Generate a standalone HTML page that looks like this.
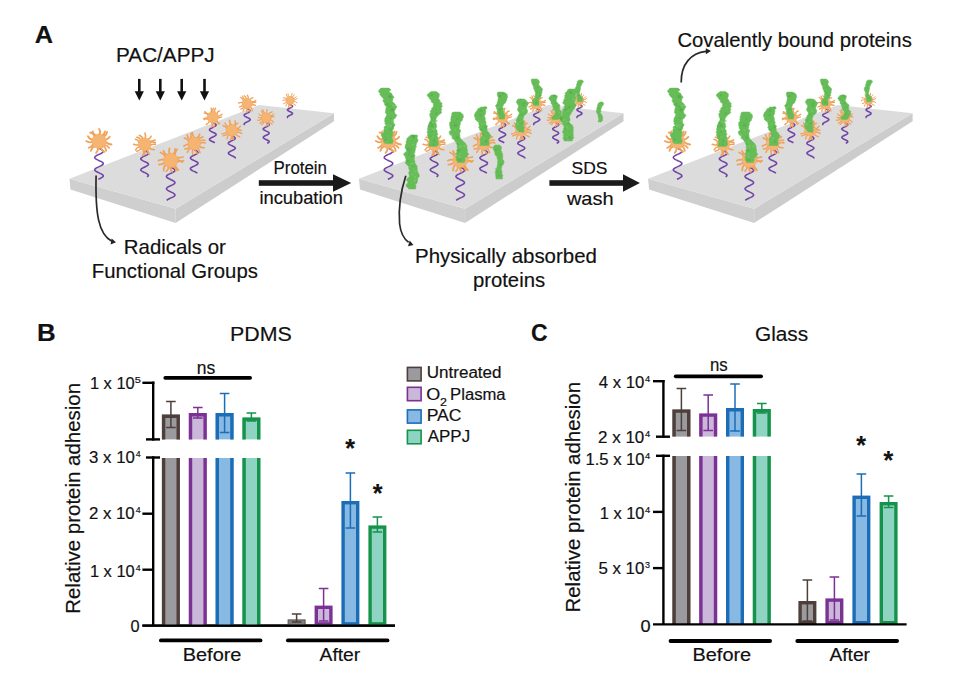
<!DOCTYPE html>
<html><head><meta charset="utf-8"><title>Figure</title>
<style>
html,body{margin:0;padding:0;background:#fff;}
svg{display:block;}
text{font-family:"Liberation Sans", Arial, Helvetica, sans-serif;fill:#111;stroke:#111;stroke-width:0.18px;}
</style></head>
<body>
<svg width="955" height="675" viewBox="0 0 955 675">
<rect width="955" height="675" fill="#fff"/>
<g><polygon points="69.5,178.8 175.6,208.8 175.6,222.9 70.5,189.5" fill="#cfcfcf"/><polygon points="175.6,208.8 334,113.3 334,121.3 175.6,222.9" fill="#cccccc"/><polygon points="69.5,178.8 259,105 334,113.3 175.6,208.8" fill="#dcdcdc"/><path d="M290,104.5L290.7,104.8L291.4,105.1L291.9,105.5L292.3,105.8L292.5,106.1L292.5,106.5L292.2,106.8L291.8,107.1L291.3,107.5L290.6,107.8L289.8,108.1L289.1,108.5L288.5,108.8L288,109.1L287.6,109.5L287.5,109.8L287.6,110.1L287.8,110.5L288.3,110.8L288.9,111.1L289.6,111.5L290.3,111.8L291,112.1L291.6,112.5L292.1,112.8L292.4,113.1L292.5,113.5L292.4,113.8L292.1,114.1L291.6,114.5L291,114.8L290.3,115.1L289.5,115.5L288.8,115.8L288.2,116.1L287.8,116.5L287.5,116.8L287.5,117.1L287.6,117.5L288,117.8" stroke="#7143a6" stroke-width="1.55" fill="none"/><path d="M288.6,103.7Q289.3,105.9 288.4,107.5M287.4,102.9Q286.1,104 285.9,106.3M286.6,101.5Q285.5,103.8 283.7,103.8M286.5,99.8Q284.7,99.5 282.8,100.4M286.9,98.6Q285.4,97.7 283.3,97.8M287.8,97.6Q286.6,96.3 286.4,94.4M289.5,96.8Q287.7,95.5 287.9,93.8M291,96.9Q292.4,95.5 292,93.5M292.5,97.8Q292.6,95.6 294.3,94.8M293.1,98.6Q295.2,98.6 296.3,96.8M293.6,100Q295.5,99.9 297.3,98.5M293.4,101.6Q295.6,101 297.2,102.6M292.5,103Q293.4,104.8 295.6,105.3M291.3,103.8Q290.6,105.9 291.6,107.3M289.7,104Q288.6,105.5 288.9,107.1" stroke="#f0a25a" stroke-width="1" stroke-linecap="round" fill="none"/><circle cx="290" cy="100.4" r="4.2" fill="#f6b472" stroke="#f0a25a" stroke-width="0.5"/><path d="M247.2,108.7L248.1,109.1L248.9,109.5L249.6,109.9L250,110.3L250.3,110.7L250.2,111.1L249.9,111.5L249.4,111.9L248.7,112.3L247.9,112.7L247,113.1L246.1,113.6L245.3,114L244.7,114.4L244.3,114.8L244.1,115.2L244.2,115.6L244.6,116L245.1,116.4L245.9,116.8L246.7,117.2L247.6,117.6L248.5,118.1L249.2,118.5L249.8,118.9L250.2,119.3L250.3,119.7L250.1,120.1L249.7,120.5L249.1,120.9L248.3,121.3L247.5,121.7L246.6,122.1L245.7,122.5L245,123L244.5,123.4L244.2,123.8L244.1,124.2L244.3,124.6L244.8,125" stroke="#7143a6" stroke-width="1.55" fill="none"/><path d="M243.8,106.5Q243.1,108.7 240.9,109M243,105Q241.5,106.9 239.4,106.9M242.9,102.8Q240.9,101.8 238.5,103.1M243.6,101.2Q242.9,98.3 240.6,97.5M245,99.9Q243,98.4 242.4,96.2M246.1,99.4Q246.5,97.3 244.2,95.8M247.9,99.4Q248.8,97.5 247.4,95.2M249.7,100.1Q250.4,98.2 252.9,97.6M251.2,101.8Q253.9,102.1 255.8,100.4M251.6,103.2Q253.6,102.1 255.8,102.4M251.4,104.9Q253.6,104.4 255.4,105.4M250.4,106.7Q251.9,108.2 252.4,110.8M249.2,107.6Q248.8,110.2 250.6,111.6M247.2,108.1Q246.1,110.1 247.2,112.1M245.5,107.8Q243.4,109 243.2,111.1" stroke="#f0a25a" stroke-width="1.3" stroke-linecap="round" fill="none"/><circle cx="247.2" cy="103.7" r="5.1" fill="#f6b472" stroke="#f0a25a" stroke-width="0.5"/><path d="M212.8,122.6L213.9,123.1L214.9,123.6L215.6,124.1L216.1,124.6L216.1,125.1L215.9,125.6L215.3,126.1L214.4,126.6L213.4,127.1L212.3,127.7L211.2,128.2L210.3,128.7L209.7,129.2L209.5,129.7L209.5,130.2L210,130.7L210.7,131.2L211.7,131.7L212.8,132.2L213.9,132.7L214.9,133.2L215.6,133.7L216.1,134.2L216.1,134.7L215.9,135.2L215.3,135.7L214.4,136.2L213.4,136.7L212.3,137.2L211.2,137.8L210.3,138.3L209.7,138.8L209.5,139.3L209.5,139.8L210,140.3L210.7,140.8L211.7,141.3L212.8,141.8L213.9,142.3L214.8,142.8" stroke="#7143a6" stroke-width="1.55" fill="none"/><path d="M211.1,112.7Q211.9,110.1 211.1,108.1M213.1,112.4Q211.9,110.2 213.5,108.2M214.8,112.8Q214,110 215.5,108.2M216.7,114.4Q217.3,111.4 219.7,110.9M217.5,116.3Q220,116.3 222.1,114.2M217.6,117.5Q219.7,118.1 221.8,117M216.8,119.9Q217.4,123 219.8,123.4M215.5,121.2Q218,122.1 218.8,124.2M213.6,121.9Q214.9,124.4 214,127.2M211.4,121.8Q213,124.8 211.6,127M209.6,120.8Q208.8,123.4 206.3,124.5M208.5,119.3Q205.7,118.4 204,119.6M208,117.2Q205.9,118.6 203.8,118.5M208.4,115.4Q206.8,113 204.2,113.1M209.3,113.9Q206.1,113.9 204.9,111.7" stroke="#f0a25a" stroke-width="1.4" stroke-linecap="round" fill="none"/><circle cx="212.8" cy="117.2" r="5.6" fill="#f6b472" stroke="#f0a25a" stroke-width="0.5"/><path d="M266.2,122.6L267.3,123.1L268.3,123.6L268.9,124.1L269.2,124.6L269,125.2L268.4,125.7L267.5,126.2L266.4,126.7L265.3,127.2L264.3,127.8L263.6,128.3L263.2,128.8L263.3,129.3L263.9,129.8L264.7,130.3L265.8,130.9L266.9,131.4L267.9,131.9L268.7,132.4L269.1,132.9L269.1,133.5L268.7,134L267.9,134.5L266.8,135L265.7,135.5L264.6,136L263.8,136.6L263.3,137.1L263.3,137.6L263.6,138.1L264.4,138.6L265.4,139.2L266.5,139.7L267.6,140.2L268.5,140.7L269,141.2L269.2,141.7L268.9,142.3L268.2,142.8L267.2,143.3" stroke="#7143a6" stroke-width="1.55" fill="none"/><path d="M265.2,113.7Q262.8,112 263,109.7M267.1,113.7Q265.9,111.4 267.2,109.7M268.8,114.4Q269.4,112.3 272.2,111.8M269.9,115.8Q272.5,116.1 273.7,114.1M270.4,117.9Q272.4,116 274.2,116.9M270.1,119.6Q272.1,120.2 273.5,122.2M269.2,120.8Q269.8,123.3 272.2,124.1M267.7,121.8Q268.7,123.6 268.2,126M266.1,122Q267.4,124.3 266.1,126.5M263.9,121.4Q263.7,123.7 261.4,124.7M262.9,120.5Q262.1,122.8 259.7,123.2M262,118.6Q260.1,120.7 257.7,120.2M262,117.4Q260,118.5 258.2,117.3M262.6,115.5Q260.1,115.9 259,114M263.7,114.4Q261.9,113 261.5,110.6" stroke="#f0a25a" stroke-width="1.2" stroke-linecap="round" fill="none"/><circle cx="266.2" cy="117.8" r="4.9" fill="#f6b472" stroke="#f0a25a" stroke-width="0.5"/><path d="M231.8,135.8L233,136.3L234.1,136.9L234.9,137.5L235.2,138.1L235.2,138.6L234.7,139.2L233.8,139.8L232.7,140.3L231.5,140.9L230.3,141.5L229.3,142L228.6,142.6L228.3,143.2L228.5,143.7L229.1,144.3L230.1,144.9L231.2,145.4L232.5,146L233.6,146.6L234.5,147.1L235.1,147.7L235.3,148.3L235,148.8L234.3,149.4L233.2,150L232,150.5L230.8,151.1L229.7,151.7L228.9,152.3L228.4,152.8L228.4,153.4L228.8,154L229.6,154.5L230.7,155.1L231.9,155.7L233.1,156.2L234.2,156.8L234.9,157.4L235.3,157.9L235.2,158.5" stroke="#7143a6" stroke-width="1.55" fill="none"/><path d="M235.1,133.9Q236.6,135.9 239.6,136.7M233.1,135Q232.2,137.6 233.5,139.6M231.5,135.1Q232,137.5 230.3,139.7M229.3,134.5Q227.1,136.1 227,139.1M228,133.4Q226.1,135.3 223.1,135.9M227,131.3Q224.9,134.1 222.1,133.8M227.1,128.7Q225.2,126.3 222.9,125.5M228.1,126.9Q225.9,125.7 225,123M229.7,125.7Q230.9,122.7 229.2,121.1M231.5,125.2Q229.7,122.8 229.6,120.3M233.8,125.7Q236,124 235.1,121M235,126.4Q235.3,123.7 238,123.1M236.5,128.7Q238.9,128.8 240.5,126.2M236.8,130.4Q239.1,129.3 241.3,130.3M236.1,132.6Q239.6,131.7 241.7,133.5" stroke="#f0a25a" stroke-width="1.4" stroke-linecap="round" fill="none"/><circle cx="231.8" cy="130.2" r="5.8" fill="#f6b472" stroke="#f0a25a" stroke-width="0.5"/><path d="M99,148.2L100.7,149L102.1,149.8L103,150.6L103.3,151.3L103,152.1L102,152.9L100.6,153.7L98.9,154.4L97.2,155.2L95.8,156L95,156.8L94.7,157.6L95.1,158.3L96.1,159.1L97.6,159.9L99.2,160.7L100.9,161.4L102.2,162.2L103.1,163L103.3,163.8L102.9,164.5L101.8,165.3L100.3,166.1L98.6,166.9L97,167.6L95.7,168.4L94.9,169.2L94.7,170L95.2,170.8L96.3,171.5L97.8,172.3L99.5,173.1L101.1,173.9L102.4,174.6L103.2,175.4L103.3,176.2L102.7,177L101.6,177.7L100.1,178.5L98.4,179.3" stroke="#7143a6" stroke-width="1.55" fill="none"/><path d="M93,139.7Q90,139.6 87.9,136.2M94.6,137Q93.9,133.2 90.2,132.5M96.3,135.8Q92.8,134.4 92.7,131.3M99.3,135.1Q101.3,132.1 99.1,128.9M101.9,135.9Q104.7,134.3 105,131.4M103.2,136.8Q106.4,135.4 107.1,131.8M104.9,139.7Q107.7,139.7 109.7,136.8M105.1,141.7Q108.2,144.3 111.5,144.5M104,144.9Q107.3,145.2 109.1,147.7M103,146Q105.8,147.4 106.2,150.8M100.8,147.2Q101,150 104.4,151.9M97.8,147.3Q98.6,150.4 96.1,152.9M95.3,146.2Q91.6,147.5 90.9,150.9M93.5,144.1Q91.5,146.8 88.6,147.8M92.8,141.5Q89.6,143.3 86.2,141.1" stroke="#f0a25a" stroke-width="1.8" stroke-linecap="round" fill="none"/><circle cx="99" cy="141.3" r="7.2" fill="#f6b472" stroke="#f0a25a" stroke-width="0.5"/><path d="M194.2,149.7L195.5,150.3L196.6,150.9L197.4,151.5L197.9,152.1L198,152.7L197.6,153.2L196.8,153.8L195.8,154.4L194.5,155L193.3,155.6L192.1,156.2L191.2,156.8L190.6,157.4L190.4,157.9L190.7,158.5L191.3,159.1L192.3,159.7L193.5,160.3L194.8,160.9L196,161.5L197,162L197.7,162.6L198,163.2L197.9,163.8L197.3,164.4L196.4,165L195.2,165.6L193.9,166.2L192.7,166.7L191.6,167.3L190.8,167.9L190.4,168.5L190.5,169.1L190.9,169.7L191.7,170.3L192.8,170.9L194.1,171.4L195.4,172L196.5,172.6L197.4,173.2" stroke="#7143a6" stroke-width="1.55" fill="none"/><path d="M194.4,138.2Q192.5,135.3 192.4,132.6M196,138.5Q199.5,136.9 199.7,134.1M198.3,140.1Q199.7,137.5 202.9,136.9M199.2,141.5Q201.5,139.5 204.9,140.3M199.6,143.8Q202.5,141.6 205.3,142.9M199,146.1Q201.1,148.1 204.5,147.7M197.4,148Q199.9,149.5 200,152.7M195.1,149Q194.7,151.4 197.3,153.4M192.8,148.9Q192,151.4 192.9,154.5M191.1,148.1Q188.3,149.5 187.3,152.2M189.4,146.2Q188.1,149.2 184.8,148.9M188.8,144Q186.3,144.3 183.9,146.2M189,141.9Q187.3,138.2 184.4,138.1M190.1,140Q187.7,138.4 187.1,134.7M191.7,138.8Q190.1,136.7 191.1,133.2" stroke="#f0a25a" stroke-width="1.6" stroke-linecap="round" fill="none"/><circle cx="194.2" cy="143.6" r="6.3" fill="#f6b472" stroke="#f0a25a" stroke-width="0.5"/><path d="M144.6,150.5L146,151.2L147.2,151.8L148.1,152.5L148.5,153.1L148.3,153.8L147.6,154.5L146.5,155.1L145.1,155.8L143.7,156.4L142.4,157.1L141.4,157.8L140.8,158.4L140.8,159.1L141.3,159.7L142.3,160.4L143.5,161.1L145,161.7L146.4,162.4L147.5,163L148.2,163.7L148.5,164.4L148.1,165L147.3,165.7L146.2,166.3L144.7,167L143.3,167.7L142.1,168.3L141.2,169L140.8,169.6L140.9,170.3L141.5,171L142.6,171.6L143.9,172.3L145.4,172.9L146.7,173.6L147.7,174.3L148.3,174.9L148.4,175.6L148,176.2L147.1,176.9" stroke="#7143a6" stroke-width="1.55" fill="none"/><path d="M140.7,140.4Q140,137.6 136.8,137.3M142.8,139.1Q142.6,136.7 139.4,135.3M145,138.8Q146.2,136 145,133.1M147.6,139.7Q150.2,138.5 151.1,136.2M149.3,141.4Q152.7,141.6 155,140M149.9,142.6Q152.2,141.4 155.3,142.6M150,145.3Q152.8,143.9 155.3,144.3M149,147.6Q150.9,149.7 154.3,149.7M147.6,148.9Q147.1,152.7 149.6,154.4M144.9,149.8Q145.8,152.5 143.4,155.4M143.4,149.7Q144.5,152.8 142.5,155.4M141.1,148.6Q139.8,150.5 136.8,151.2M139.6,146.7Q137,147.1 135.5,149.9M139.1,144.7Q136.4,145.5 133.6,144.3M139.4,142.5Q137.8,139.5 135.3,139.2" stroke="#f0a25a" stroke-width="1.6" stroke-linecap="round" fill="none"/><circle cx="144.6" cy="144.3" r="6.4" fill="#f6b472" stroke="#f0a25a" stroke-width="0.5"/><path d="M170.7,167.2L172.5,168.1L173.9,168.9L174.8,169.7L175,170.5L174.4,171.4L173.1,172.2L171.5,173L169.7,173.9L168,174.7L166.9,175.5L166.4,176.4L166.7,177.2L167.7,178L169.2,178.8L171,179.7L172.7,180.5L174.1,181.3L174.9,182.2L174.9,183L174.2,183.8L172.9,184.6L171.2,185.5L169.4,186.3L167.8,187.1L166.8,188L166.4,188.8L166.8,189.6L167.8,190.4L169.4,191.3L171.2,192.1L172.9,192.9L174.2,193.8L174.9,194.6L174.9,195.4L174.1,196.3L172.7,197.1L171,197.9L169.2,198.7L167.6,199.6L166.7,200.4" stroke="#7143a6" stroke-width="1.55" fill="none"/><path d="M164.9,162.3Q162.3,164.7 158.9,164.7M164.5,159.9Q161.5,159 158.4,160.5M165.5,157.1Q163.7,153.6 160.6,152.5M167.4,155.1Q164.2,153.8 163.5,150.9M169.6,154.2Q168.5,151.5 169.5,148.3M172.6,154.4Q175.8,152.4 175,149M174.7,155.7Q174.8,151.5 177.1,149.3M176.2,157.6Q180,158.1 182.9,157M176.8,159.6Q180.4,162.2 183.5,160.6M176.6,162Q180,160 182.3,162M175,164.7Q176,168.1 178.4,170.1M172.8,166.1Q176.1,167.7 176.2,170.5M170.8,166.5Q169.7,169.2 172.1,171.9M168.5,166.1Q168.8,169.1 166.5,171.2M166.3,164.6Q163.5,166 163.7,170.5" stroke="#f0a25a" stroke-width="1.8" stroke-linecap="round" fill="none"/><circle cx="170.7" cy="160.3" r="7.2" fill="#f6b472" stroke="#f0a25a" stroke-width="0.5"/></g>
<g transform="translate(289.5,0)"><polygon points="69.5,178.8 175.6,208.8 175.6,222.9 70.5,189.5" fill="#cfcfcf"/><polygon points="175.6,208.8 334,113.3 334,121.3 175.6,222.9" fill="#cccccc"/><polygon points="69.5,178.8 259,105 334,113.3 175.6,208.8" fill="#dcdcdc"/><path d="M290,104.5L290.7,104.8L291.4,105.1L291.9,105.5L292.3,105.8L292.5,106.1L292.5,106.5L292.2,106.8L291.8,107.1L291.3,107.5L290.6,107.8L289.8,108.1L289.1,108.5L288.5,108.8L288,109.1L287.6,109.5L287.5,109.8L287.6,110.1L287.8,110.5L288.3,110.8L288.9,111.1L289.6,111.5L290.3,111.8L291,112.1L291.6,112.5L292.1,112.8L292.4,113.1L292.5,113.5L292.4,113.8L292.1,114.1L291.6,114.5L291,114.8L290.3,115.1L289.5,115.5L288.8,115.8L288.2,116.1L287.8,116.5L287.5,116.8L287.5,117.1L287.6,117.5L288,117.8" stroke="#7143a6" stroke-width="1.55" fill="none"/><path d="M288.6,103.7Q289.3,105.9 288.4,107.5M287.4,102.9Q286.1,104 285.9,106.3M286.6,101.5Q285.5,103.8 283.7,103.8M286.5,99.8Q284.7,99.5 282.8,100.4M286.9,98.6Q285.4,97.7 283.3,97.8M287.8,97.6Q286.6,96.3 286.4,94.4M289.5,96.8Q287.7,95.5 287.9,93.8M291,96.9Q292.4,95.5 292,93.5M292.5,97.8Q292.6,95.6 294.3,94.8M293.1,98.6Q295.2,98.6 296.3,96.8M293.6,100Q295.5,99.9 297.3,98.5M293.4,101.6Q295.6,101 297.2,102.6M292.5,103Q293.4,104.8 295.6,105.3M291.3,103.8Q290.6,105.9 291.6,107.3M289.7,104Q288.6,105.5 288.9,107.1" stroke="#f0a25a" stroke-width="1" stroke-linecap="round" fill="none"/><circle cx="290" cy="100.4" r="4.2" fill="#f6b472" stroke="#f0a25a" stroke-width="0.5"/><path d="M247.2,108.7L248.1,109.1L248.9,109.5L249.6,109.9L250,110.3L250.3,110.7L250.2,111.1L249.9,111.5L249.4,111.9L248.7,112.3L247.9,112.7L247,113.1L246.1,113.6L245.3,114L244.7,114.4L244.3,114.8L244.1,115.2L244.2,115.6L244.6,116L245.1,116.4L245.9,116.8L246.7,117.2L247.6,117.6L248.5,118.1L249.2,118.5L249.8,118.9L250.2,119.3L250.3,119.7L250.1,120.1L249.7,120.5L249.1,120.9L248.3,121.3L247.5,121.7L246.6,122.1L245.7,122.5L245,123L244.5,123.4L244.2,123.8L244.1,124.2L244.3,124.6L244.8,125" stroke="#7143a6" stroke-width="1.55" fill="none"/><path d="M243.8,106.5Q243.1,108.7 240.9,109M243,105Q241.5,106.9 239.4,106.9M242.9,102.8Q240.9,101.8 238.5,103.1M243.6,101.2Q242.9,98.3 240.6,97.5M245,99.9Q243,98.4 242.4,96.2M246.1,99.4Q246.5,97.3 244.2,95.8M247.9,99.4Q248.8,97.5 247.4,95.2M249.7,100.1Q250.4,98.2 252.9,97.6M251.2,101.8Q253.9,102.1 255.8,100.4M251.6,103.2Q253.6,102.1 255.8,102.4M251.4,104.9Q253.6,104.4 255.4,105.4M250.4,106.7Q251.9,108.2 252.4,110.8M249.2,107.6Q248.8,110.2 250.6,111.6M247.2,108.1Q246.1,110.1 247.2,112.1M245.5,107.8Q243.4,109 243.2,111.1" stroke="#f0a25a" stroke-width="1.3" stroke-linecap="round" fill="none"/><circle cx="247.2" cy="103.7" r="5.1" fill="#f6b472" stroke="#f0a25a" stroke-width="0.5"/><path d="M212.8,122.6L213.9,123.1L214.9,123.6L215.6,124.1L216.1,124.6L216.1,125.1L215.9,125.6L215.3,126.1L214.4,126.6L213.4,127.1L212.3,127.7L211.2,128.2L210.3,128.7L209.7,129.2L209.5,129.7L209.5,130.2L210,130.7L210.7,131.2L211.7,131.7L212.8,132.2L213.9,132.7L214.9,133.2L215.6,133.7L216.1,134.2L216.1,134.7L215.9,135.2L215.3,135.7L214.4,136.2L213.4,136.7L212.3,137.2L211.2,137.8L210.3,138.3L209.7,138.8L209.5,139.3L209.5,139.8L210,140.3L210.7,140.8L211.7,141.3L212.8,141.8L213.9,142.3L214.8,142.8" stroke="#7143a6" stroke-width="1.55" fill="none"/><path d="M211.1,112.7Q211.9,110.1 211.1,108.1M213.1,112.4Q211.9,110.2 213.5,108.2M214.8,112.8Q214,110 215.5,108.2M216.7,114.4Q217.3,111.4 219.7,110.9M217.5,116.3Q220,116.3 222.1,114.2M217.6,117.5Q219.7,118.1 221.8,117M216.8,119.9Q217.4,123 219.8,123.4M215.5,121.2Q218,122.1 218.8,124.2M213.6,121.9Q214.9,124.4 214,127.2M211.4,121.8Q213,124.8 211.6,127M209.6,120.8Q208.8,123.4 206.3,124.5M208.5,119.3Q205.7,118.4 204,119.6M208,117.2Q205.9,118.6 203.8,118.5M208.4,115.4Q206.8,113 204.2,113.1M209.3,113.9Q206.1,113.9 204.9,111.7" stroke="#f0a25a" stroke-width="1.4" stroke-linecap="round" fill="none"/><circle cx="212.8" cy="117.2" r="5.6" fill="#f6b472" stroke="#f0a25a" stroke-width="0.5"/><path d="M266.2,122.6L267.3,123.1L268.3,123.6L268.9,124.1L269.2,124.6L269,125.2L268.4,125.7L267.5,126.2L266.4,126.7L265.3,127.2L264.3,127.8L263.6,128.3L263.2,128.8L263.3,129.3L263.9,129.8L264.7,130.3L265.8,130.9L266.9,131.4L267.9,131.9L268.7,132.4L269.1,132.9L269.1,133.5L268.7,134L267.9,134.5L266.8,135L265.7,135.5L264.6,136L263.8,136.6L263.3,137.1L263.3,137.6L263.6,138.1L264.4,138.6L265.4,139.2L266.5,139.7L267.6,140.2L268.5,140.7L269,141.2L269.2,141.7L268.9,142.3L268.2,142.8L267.2,143.3" stroke="#7143a6" stroke-width="1.55" fill="none"/><path d="M265.2,113.7Q262.8,112 263,109.7M267.1,113.7Q265.9,111.4 267.2,109.7M268.8,114.4Q269.4,112.3 272.2,111.8M269.9,115.8Q272.5,116.1 273.7,114.1M270.4,117.9Q272.4,116 274.2,116.9M270.1,119.6Q272.1,120.2 273.5,122.2M269.2,120.8Q269.8,123.3 272.2,124.1M267.7,121.8Q268.7,123.6 268.2,126M266.1,122Q267.4,124.3 266.1,126.5M263.9,121.4Q263.7,123.7 261.4,124.7M262.9,120.5Q262.1,122.8 259.7,123.2M262,118.6Q260.1,120.7 257.7,120.2M262,117.4Q260,118.5 258.2,117.3M262.6,115.5Q260.1,115.9 259,114M263.7,114.4Q261.9,113 261.5,110.6" stroke="#f0a25a" stroke-width="1.2" stroke-linecap="round" fill="none"/><circle cx="266.2" cy="117.8" r="4.9" fill="#f6b472" stroke="#f0a25a" stroke-width="0.5"/><path d="M231.8,135.8L233,136.3L234.1,136.9L234.9,137.5L235.2,138.1L235.2,138.6L234.7,139.2L233.8,139.8L232.7,140.3L231.5,140.9L230.3,141.5L229.3,142L228.6,142.6L228.3,143.2L228.5,143.7L229.1,144.3L230.1,144.9L231.2,145.4L232.5,146L233.6,146.6L234.5,147.1L235.1,147.7L235.3,148.3L235,148.8L234.3,149.4L233.2,150L232,150.5L230.8,151.1L229.7,151.7L228.9,152.3L228.4,152.8L228.4,153.4L228.8,154L229.6,154.5L230.7,155.1L231.9,155.7L233.1,156.2L234.2,156.8L234.9,157.4L235.3,157.9L235.2,158.5" stroke="#7143a6" stroke-width="1.55" fill="none"/><path d="M235.1,133.9Q236.6,135.9 239.6,136.7M233.1,135Q232.2,137.6 233.5,139.6M231.5,135.1Q232,137.5 230.3,139.7M229.3,134.5Q227.1,136.1 227,139.1M228,133.4Q226.1,135.3 223.1,135.9M227,131.3Q224.9,134.1 222.1,133.8M227.1,128.7Q225.2,126.3 222.9,125.5M228.1,126.9Q225.9,125.7 225,123M229.7,125.7Q230.9,122.7 229.2,121.1M231.5,125.2Q229.7,122.8 229.6,120.3M233.8,125.7Q236,124 235.1,121M235,126.4Q235.3,123.7 238,123.1M236.5,128.7Q238.9,128.8 240.5,126.2M236.8,130.4Q239.1,129.3 241.3,130.3M236.1,132.6Q239.6,131.7 241.7,133.5" stroke="#f0a25a" stroke-width="1.4" stroke-linecap="round" fill="none"/><circle cx="231.8" cy="130.2" r="5.8" fill="#f6b472" stroke="#f0a25a" stroke-width="0.5"/><path d="M99,148.2L100.7,149L102.1,149.8L103,150.6L103.3,151.3L103,152.1L102,152.9L100.6,153.7L98.9,154.4L97.2,155.2L95.8,156L95,156.8L94.7,157.6L95.1,158.3L96.1,159.1L97.6,159.9L99.2,160.7L100.9,161.4L102.2,162.2L103.1,163L103.3,163.8L102.9,164.5L101.8,165.3L100.3,166.1L98.6,166.9L97,167.6L95.7,168.4L94.9,169.2L94.7,170L95.2,170.8L96.3,171.5L97.8,172.3L99.5,173.1L101.1,173.9L102.4,174.6L103.2,175.4L103.3,176.2L102.7,177L101.6,177.7L100.1,178.5L98.4,179.3" stroke="#7143a6" stroke-width="1.55" fill="none"/><path d="M93,139.7Q90,139.6 87.9,136.2M94.6,137Q93.9,133.2 90.2,132.5M96.3,135.8Q92.8,134.4 92.7,131.3M99.3,135.1Q101.3,132.1 99.1,128.9M101.9,135.9Q104.7,134.3 105,131.4M103.2,136.8Q106.4,135.4 107.1,131.8M104.9,139.7Q107.7,139.7 109.7,136.8M105.1,141.7Q108.2,144.3 111.5,144.5M104,144.9Q107.3,145.2 109.1,147.7M103,146Q105.8,147.4 106.2,150.8M100.8,147.2Q101,150 104.4,151.9M97.8,147.3Q98.6,150.4 96.1,152.9M95.3,146.2Q91.6,147.5 90.9,150.9M93.5,144.1Q91.5,146.8 88.6,147.8M92.8,141.5Q89.6,143.3 86.2,141.1" stroke="#f0a25a" stroke-width="1.8" stroke-linecap="round" fill="none"/><circle cx="99" cy="141.3" r="7.2" fill="#f6b472" stroke="#f0a25a" stroke-width="0.5"/><path d="M194.2,149.7L195.5,150.3L196.6,150.9L197.4,151.5L197.9,152.1L198,152.7L197.6,153.2L196.8,153.8L195.8,154.4L194.5,155L193.3,155.6L192.1,156.2L191.2,156.8L190.6,157.4L190.4,157.9L190.7,158.5L191.3,159.1L192.3,159.7L193.5,160.3L194.8,160.9L196,161.5L197,162L197.7,162.6L198,163.2L197.9,163.8L197.3,164.4L196.4,165L195.2,165.6L193.9,166.2L192.7,166.7L191.6,167.3L190.8,167.9L190.4,168.5L190.5,169.1L190.9,169.7L191.7,170.3L192.8,170.9L194.1,171.4L195.4,172L196.5,172.6L197.4,173.2" stroke="#7143a6" stroke-width="1.55" fill="none"/><path d="M194.4,138.2Q192.5,135.3 192.4,132.6M196,138.5Q199.5,136.9 199.7,134.1M198.3,140.1Q199.7,137.5 202.9,136.9M199.2,141.5Q201.5,139.5 204.9,140.3M199.6,143.8Q202.5,141.6 205.3,142.9M199,146.1Q201.1,148.1 204.5,147.7M197.4,148Q199.9,149.5 200,152.7M195.1,149Q194.7,151.4 197.3,153.4M192.8,148.9Q192,151.4 192.9,154.5M191.1,148.1Q188.3,149.5 187.3,152.2M189.4,146.2Q188.1,149.2 184.8,148.9M188.8,144Q186.3,144.3 183.9,146.2M189,141.9Q187.3,138.2 184.4,138.1M190.1,140Q187.7,138.4 187.1,134.7M191.7,138.8Q190.1,136.7 191.1,133.2" stroke="#f0a25a" stroke-width="1.6" stroke-linecap="round" fill="none"/><circle cx="194.2" cy="143.6" r="6.3" fill="#f6b472" stroke="#f0a25a" stroke-width="0.5"/><path d="M144.6,150.5L146,151.2L147.2,151.8L148.1,152.5L148.5,153.1L148.3,153.8L147.6,154.5L146.5,155.1L145.1,155.8L143.7,156.4L142.4,157.1L141.4,157.8L140.8,158.4L140.8,159.1L141.3,159.7L142.3,160.4L143.5,161.1L145,161.7L146.4,162.4L147.5,163L148.2,163.7L148.5,164.4L148.1,165L147.3,165.7L146.2,166.3L144.7,167L143.3,167.7L142.1,168.3L141.2,169L140.8,169.6L140.9,170.3L141.5,171L142.6,171.6L143.9,172.3L145.4,172.9L146.7,173.6L147.7,174.3L148.3,174.9L148.4,175.6L148,176.2L147.1,176.9" stroke="#7143a6" stroke-width="1.55" fill="none"/><path d="M140.7,140.4Q140,137.6 136.8,137.3M142.8,139.1Q142.6,136.7 139.4,135.3M145,138.8Q146.2,136 145,133.1M147.6,139.7Q150.2,138.5 151.1,136.2M149.3,141.4Q152.7,141.6 155,140M149.9,142.6Q152.2,141.4 155.3,142.6M150,145.3Q152.8,143.9 155.3,144.3M149,147.6Q150.9,149.7 154.3,149.7M147.6,148.9Q147.1,152.7 149.6,154.4M144.9,149.8Q145.8,152.5 143.4,155.4M143.4,149.7Q144.5,152.8 142.5,155.4M141.1,148.6Q139.8,150.5 136.8,151.2M139.6,146.7Q137,147.1 135.5,149.9M139.1,144.7Q136.4,145.5 133.6,144.3M139.4,142.5Q137.8,139.5 135.3,139.2" stroke="#f0a25a" stroke-width="1.6" stroke-linecap="round" fill="none"/><circle cx="144.6" cy="144.3" r="6.4" fill="#f6b472" stroke="#f0a25a" stroke-width="0.5"/><path d="M170.7,167.2L172.5,168.1L173.9,168.9L174.8,169.7L175,170.5L174.4,171.4L173.1,172.2L171.5,173L169.7,173.9L168,174.7L166.9,175.5L166.4,176.4L166.7,177.2L167.7,178L169.2,178.8L171,179.7L172.7,180.5L174.1,181.3L174.9,182.2L174.9,183L174.2,183.8L172.9,184.6L171.2,185.5L169.4,186.3L167.8,187.1L166.8,188L166.4,188.8L166.8,189.6L167.8,190.4L169.4,191.3L171.2,192.1L172.9,192.9L174.2,193.8L174.9,194.6L174.9,195.4L174.1,196.3L172.7,197.1L171,197.9L169.2,198.7L167.6,199.6L166.7,200.4" stroke="#7143a6" stroke-width="1.55" fill="none"/><path d="M164.9,162.3Q162.3,164.7 158.9,164.7M164.5,159.9Q161.5,159 158.4,160.5M165.5,157.1Q163.7,153.6 160.6,152.5M167.4,155.1Q164.2,153.8 163.5,150.9M169.6,154.2Q168.5,151.5 169.5,148.3M172.6,154.4Q175.8,152.4 175,149M174.7,155.7Q174.8,151.5 177.1,149.3M176.2,157.6Q180,158.1 182.9,157M176.8,159.6Q180.4,162.2 183.5,160.6M176.6,162Q180,160 182.3,162M175,164.7Q176,168.1 178.4,170.1M172.8,166.1Q176.1,167.7 176.2,170.5M170.8,166.5Q169.7,169.2 172.1,171.9M168.5,166.1Q168.8,169.1 166.5,171.2M166.3,164.6Q163.5,166 163.7,170.5" stroke="#f0a25a" stroke-width="1.8" stroke-linecap="round" fill="none"/><circle cx="170.7" cy="160.3" r="7.2" fill="#f6b472" stroke="#f0a25a" stroke-width="0.5"/><path d="M289.7,80 L288.1,80.9 L287.7,81.8 L287.8,82.7 L287.4,83.6 L287,84.5 L287.1,85.4 L286.9,86.3 L286.2,87.2 L285.8,88.2 L285.5,89.1 L285.7,90 L286.2,90.9 L286.7,91.8 L286.7,92.7 L287,93.6 L287.2,94.5 L287.2,95.4 L287,96.3 L287.9,97.2 L287.7,98.1 L288,99 L287.6,99.9 L288.1,100.8 L288.1,101.8 L292.4,101.8 L293.1,100.8 L293.3,99.9 L293.1,99 L292.8,98.1 L292.4,97.2 L291.7,96.3 L291.1,95.4 L290.6,94.5 L289.8,93.6 L290.1,92.7 L290.3,91.8 L290.4,90.9 L290.8,90 L290.8,89.1 L291.1,88.2 L291,87.2 L291.2,86.3 L291.8,85.4 L292.3,84.5 L292.5,83.6 L293.4,82.7 L293.9,81.8 L293.7,80.9 L292.3,80Z" fill="#66bd58" stroke="#66bd58" stroke-width="0.5" stroke-linejoin="round"/><circle cx="289.5" cy="95.7" r="0.8" fill="#4ea647" opacity="0.45"/><circle cx="290.1" cy="80.5" r="0.7" fill="#7fcb70" opacity="0.45"/><circle cx="290.1" cy="100.7" r="0.6" fill="#7fcb70" opacity="0.45"/><circle cx="288.9" cy="97.7" r="0.7" fill="#4ea647" opacity="0.45"/><circle cx="290.9" cy="97.5" r="0.8" fill="#4ea647" opacity="0.45"/><circle cx="287.8" cy="93.2" r="0.6" fill="#7fcb70" opacity="0.45"/><circle cx="289.7" cy="97" r="0.7" fill="#7fcb70" opacity="0.45"/><path d="M242.3,79 L241.7,79.9 L241.7,80.8 L242.1,81.7 L242.2,82.6 L242.4,83.5 L242.9,84.5 L243.4,85.4 L243.8,86.3 L244.1,87.2 L244.1,88.1 L244.3,89 L245,89.9 L245.1,90.8 L245.5,91.7 L245.7,92.6 L246.3,93.5 L245.4,94.4 L246,95.4 L245.6,96.3 L245.7,97.2 L245.4,98.1 L244.4,99 L243.3,99.9 L243.2,100.8 L243.2,101.7 L242.7,102.6 L243.2,103.5 L243.9,104.4 L244.2,105.4 L249.3,105.4 L249.6,104.4 L249.4,103.5 L249.6,102.6 L249.5,101.7 L249.1,100.8 L248.7,99.9 L249.8,99 L250.8,98.1 L250.9,97.2 L251.3,96.3 L252.1,95.4 L251.7,94.4 L252.1,93.5 L252.6,92.6 L252.4,91.7 L252.7,90.8 L252.9,89.9 L253.2,89 L252.2,88.1 L251.5,87.2 L250.5,86.3 L249.8,85.4 L249.3,84.5 L249.4,83.5 L250,82.6 L249.8,81.7 L249.5,80.8 L249.1,79.9 L247.3,79Z" fill="#66bd58" stroke="#66bd58" stroke-width="0.5" stroke-linejoin="round"/><circle cx="247.4" cy="92.3" r="0.8" fill="#4ea647" opacity="0.45"/><circle cx="244.2" cy="83.5" r="0.8" fill="#4ea647" opacity="0.45"/><circle cx="248.6" cy="86.9" r="0.6" fill="#7fcb70" opacity="0.45"/><circle cx="248.3" cy="87.3" r="1" fill="#4ea647" opacity="0.45"/><circle cx="246.7" cy="102.8" r="1.1" fill="#4ea647" opacity="0.45"/><circle cx="250.6" cy="95.9" r="0.9" fill="#4ea647" opacity="0.45"/><circle cx="247.6" cy="101.3" r="0.7" fill="#4ea647" opacity="0.45"/><circle cx="247.3" cy="80.1" r="0.7" fill="#7fcb70" opacity="0.45"/><path d="M209.1,92 L208.3,92.9 L207.3,93.8 L208.1,94.7 L207.9,95.6 L208.2,96.5 L208.8,97.4 L208.7,98.3 L208.5,99.2 L208.3,100.1 L208.5,101 L207.8,101.9 L207.6,102.8 L207.6,103.7 L207,104.6 L206,105.5 L206.3,106.4 L206.8,107.3 L206.9,108.2 L207.3,109.1 L207.8,110 L207.7,110.9 L207.5,111.8 L207.7,112.7 L208.1,113.6 L208.6,114.5 L209,115.4 L209.4,116.3 L209.4,117.2 L209.4,118.1 L209.6,119 L214.9,119 L215.1,118.1 L215.2,117.2 L215.2,116.3 L215.7,115.4 L215.3,114.5 L214.6,113.6 L214.2,112.7 L213.9,111.8 L213.9,110.9 L213.4,110 L213.9,109.1 L213.5,108.2 L213.1,107.3 L213.2,106.4 L213.9,105.5 L213.9,104.6 L214.9,103.7 L216.1,102.8 L216.1,101.9 L216.8,101 L217.2,100.1 L217.4,99.2 L217.4,98.3 L218.2,97.4 L217.9,96.5 L217.8,95.6 L217.8,94.7 L217,93.8 L215.9,92.9 L213,92Z" fill="#66bd58" stroke="#66bd58" stroke-width="0.5" stroke-linejoin="round"/><circle cx="208.6" cy="92.6" r="0.9" fill="#4ea647" opacity="0.45"/><circle cx="210.1" cy="106.1" r="0.9" fill="#7fcb70" opacity="0.45"/><circle cx="208.5" cy="107.9" r="1.1" fill="#7fcb70" opacity="0.45"/><circle cx="210.5" cy="96.3" r="1.2" fill="#4ea647" opacity="0.45"/><circle cx="210.9" cy="96" r="1.1" fill="#4ea647" opacity="0.45"/><circle cx="210.5" cy="113.1" r="0.8" fill="#4ea647" opacity="0.45"/><circle cx="213.7" cy="93.5" r="1.2" fill="#4ea647" opacity="0.45"/><circle cx="210.3" cy="109.4" r="1.3" fill="#4ea647" opacity="0.45"/><circle cx="208.8" cy="105.3" r="0.7" fill="#4ea647" opacity="0.45"/><path d="M262.3,95 L260.7,95.9 L260.6,96.8 L259.3,97.7 L259.4,98.6 L259.9,99.5 L260.6,100.4 L261.2,101.3 L261.7,102.2 L261.4,103.1 L261.8,104 L262.9,104.9 L262.9,105.8 L263.2,106.7 L263.6,107.6 L263.7,108.5 L263.7,109.5 L264.6,110.4 L265.4,111.3 L265.5,112.2 L266,113.1 L265.6,114 L264.9,114.9 L263.7,115.8 L262.8,116.7 L262.2,117.6 L262.4,118.5 L263.2,119.4 L268.5,119.4 L269.5,118.5 L269.9,117.6 L270.3,116.7 L270.6,115.8 L271.7,114.9 L271.7,114 L272.1,113.1 L271.8,112.2 L272,111.3 L270.9,110.4 L270.2,109.5 L270.1,108.5 L270,107.6 L269.9,106.7 L270.5,105.8 L270.4,104.9 L269,104 L268.2,103.1 L267.5,102.2 L267,101.3 L266.6,100.4 L267,99.5 L267.3,98.6 L267.5,97.7 L267.8,96.8 L267.8,95.9 L266.2,95Z" fill="#66bd58" stroke="#66bd58" stroke-width="0.5" stroke-linejoin="round"/><circle cx="264.6" cy="105.3" r="0.7" fill="#7fcb70" opacity="0.45"/><circle cx="265.3" cy="96.2" r="1.1" fill="#4ea647" opacity="0.45"/><circle cx="268" cy="107.3" r="0.9" fill="#4ea647" opacity="0.45"/><circle cx="266.7" cy="114.2" r="0.8" fill="#4ea647" opacity="0.45"/><circle cx="265.7" cy="103.5" r="0.9" fill="#4ea647" opacity="0.45"/><circle cx="270" cy="112.4" r="0.9" fill="#7fcb70" opacity="0.45"/><circle cx="261.3" cy="99.2" r="0.7" fill="#4ea647" opacity="0.45"/><circle cx="264.2" cy="95.1" r="0.8" fill="#4ea647" opacity="0.45"/><path d="M229,99 L227.6,99.9 L227.4,100.8 L226.9,101.8 L226.9,102.7 L227.6,103.6 L228.2,104.5 L229,105.4 L228.9,106.3 L228.9,107.3 L228.3,108.2 L228.1,109.1 L227.9,110 L228.7,110.9 L229.2,111.9 L229.8,112.8 L229.6,113.7 L229.5,114.6 L228.5,115.5 L228.3,116.4 L227.7,117.4 L227.9,118.3 L226.8,119.2 L226.5,120.1 L226.7,121 L227.4,122 L226.4,122.9 L226.1,123.8 L226,124.7 L226.1,125.6 L225.8,126.6 L226.6,127.5 L226.7,128.4 L227.3,129.3 L227.9,130.2 L229.1,131.1 L229.2,132.1 L233.7,132.1 L233.6,131.1 L235.1,130.2 L234.4,129.3 L234.3,128.4 L235.2,127.5 L234.4,126.6 L233.6,125.6 L234.3,124.7 L233.9,123.8 L234.2,122.9 L234.5,122 L234.3,121 L233.4,120.1 L233.8,119.2 L233.7,118.3 L234.2,117.4 L234.4,116.4 L234.9,115.5 L235.4,114.6 L237,113.7 L237.9,112.8 L237.8,111.9 L238.2,110.9 L238.1,110 L237.1,109.1 L236.9,108.2 L237.4,107.3 L237.3,106.3 L238.3,105.4 L238.4,104.5 L238.7,103.6 L238.9,102.7 L237.6,101.8 L236.9,100.8 L236.3,99.9 L234.5,99Z" fill="#66bd58" stroke="#66bd58" stroke-width="0.5" stroke-linejoin="round"/><circle cx="235.8" cy="114.1" r="0.8" fill="#4ea647" opacity="0.45"/><circle cx="228.1" cy="124.2" r="1.4" fill="#7fcb70" opacity="0.45"/><circle cx="229" cy="120.1" r="0.9" fill="#4ea647" opacity="0.45"/><circle cx="231.3" cy="99.4" r="1" fill="#4ea647" opacity="0.45"/><circle cx="230.9" cy="121.3" r="0.8" fill="#7fcb70" opacity="0.45"/><circle cx="232.6" cy="123.5" r="1" fill="#4ea647" opacity="0.45"/><circle cx="233.7" cy="131.9" r="1" fill="#4ea647" opacity="0.45"/><circle cx="234.3" cy="103.3" r="1.2" fill="#4ea647" opacity="0.45"/><circle cx="234.1" cy="105.4" r="1.2" fill="#4ea647" opacity="0.45"/><circle cx="233.7" cy="110.7" r="1.2" fill="#7fcb70" opacity="0.45"/><circle cx="232.2" cy="114.5" r="1.1" fill="#4ea647" opacity="0.45"/><path d="M91.5,88.1 L90.5,89 L89.8,89.9 L89,90.8 L89.1,91.7 L89.6,92.6 L90.8,93.6 L90.3,94.5 L91.2,95.4 L91.6,96.3 L92.8,97.2 L93.3,98.1 L94.1,99 L93.8,99.9 L93.2,100.8 L94,101.8 L94.5,102.7 L95.1,103.6 L95,104.5 L95.5,105.4 L96.6,106.3 L96.9,107.2 L96.4,108.1 L96.4,109 L96.1,109.9 L96.1,110.8 L96,111.8 L95.8,112.7 L96.4,113.6 L97.4,114.5 L96.9,115.4 L96.4,116.3 L96.5,117.2 L95.3,118.1 L95.4,119 L95.3,120 L95.2,120.9 L95,121.8 L95.9,122.7 L95.1,123.6 L96.3,124.5 L96.6,125.4 L95.3,126.3 L94.4,127.2 L94.6,128.1 L94.8,129.1 L94.1,130 L94.2,130.9 L94.4,131.8 L94,132.7 L92.9,133.6 L91.6,134.5 L91.6,135.4 L92.1,136.3 L92.7,137.2 L92.9,138.2 L93.2,139.1 L94.1,140 L94.3,140.9 L93.9,141.8 L94.9,142.7 L95.6,143.6 L102.8,143.6 L102.8,142.7 L103.5,141.8 L103.8,140.9 L103.3,140 L103,139.1 L102.3,138.2 L102.8,137.2 L102.9,136.3 L103.2,135.4 L102.7,134.5 L103.4,133.6 L103.5,132.7 L103.5,131.8 L102.9,130.9 L103.3,130 L103.9,129.1 L104.4,128.1 L103.9,127.2 L104.8,126.3 L105.2,125.4 L105.7,124.5 L104.1,123.6 L104.4,122.7 L103.7,121.8 L104.1,120.9 L103.8,120 L104.4,119 L106,118.1 L106.2,117.2 L106.8,116.3 L107.4,115.4 L106.8,114.5 L105.3,113.6 L105.3,112.7 L105.1,111.8 L104.9,110.8 L105.7,109.9 L105.8,109 L106.6,108.1 L107.1,107.2 L107.4,106.3 L105.9,105.4 L105.8,104.5 L105,103.6 L104.3,102.7 L102.9,101.8 L103,100.8 L103.4,99.9 L103.2,99 L103.9,98.1 L104.7,97.2 L103.9,96.3 L103.2,95.4 L102.5,94.5 L102.4,93.6 L100.6,92.6 L99.5,91.7 L100.3,90.8 L101.5,89.9 L100.5,89 L99.5,88.1Z" fill="#66bd58" stroke="#66bd58" stroke-width="0.5" stroke-linejoin="round"/><circle cx="103.7" cy="105.7" r="1.5" fill="#7fcb70" opacity="0.45"/><circle cx="98.5" cy="125.7" r="1.6" fill="#7fcb70" opacity="0.45"/><circle cx="96.8" cy="141.1" r="1.6" fill="#7fcb70" opacity="0.45"/><circle cx="103" cy="109.5" r="1.7" fill="#4ea647" opacity="0.45"/><circle cx="100.5" cy="106.6" r="1.4" fill="#4ea647" opacity="0.45"/><circle cx="102.3" cy="127.1" r="1.2" fill="#4ea647" opacity="0.45"/><circle cx="96.3" cy="128.4" r="1" fill="#7fcb70" opacity="0.45"/><circle cx="102.7" cy="120.6" r="1.1" fill="#7fcb70" opacity="0.45"/><circle cx="101.6" cy="126.1" r="1.7" fill="#7fcb70" opacity="0.45"/><circle cx="96.7" cy="103.8" r="1.1" fill="#7fcb70" opacity="0.45"/><circle cx="100.6" cy="96.8" r="1.6" fill="#4ea647" opacity="0.45"/><circle cx="97.7" cy="104.1" r="1.7" fill="#4ea647" opacity="0.45"/><circle cx="100.4" cy="96.3" r="1.6" fill="#4ea647" opacity="0.45"/><circle cx="103.7" cy="126.1" r="1.2" fill="#4ea647" opacity="0.45"/><circle cx="101.3" cy="118.1" r="1.2" fill="#4ea647" opacity="0.45"/><circle cx="96.3" cy="139.8" r="1.4" fill="#4ea647" opacity="0.45"/><circle cx="102.3" cy="110.1" r="1.7" fill="#4ea647" opacity="0.45"/><circle cx="101.3" cy="129.8" r="1.3" fill="#4ea647" opacity="0.45"/><path d="M191.2,107 L190.3,107.9 L188.3,108.8 L188.2,109.8 L187.2,110.7 L186.8,111.6 L185.9,112.5 L185.4,113.4 L185.1,114.4 L184.9,115.3 L184.9,116.2 L185.1,117.1 L186.1,118 L185.4,119 L186.4,119.9 L187.1,120.8 L188.5,121.7 L189.2,122.6 L189.4,123.6 L189.3,124.5 L190,125.4 L189.6,126.3 L189.1,127.2 L189.6,128.2 L190.2,129.1 L190,130 L191.4,130.9 L192.4,131.8 L192.8,132.8 L192.2,133.7 L192.4,134.6 L193.1,135.5 L192.2,136.4 L191.8,137.4 L190.8,138.3 L190.8,139.2 L190.5,140.1 L191.1,141 L190.7,142 L191,142.9 L191,143.8 L190.7,144.7 L189.8,145.6 L199.3,145.6 L199.3,144.7 L199.6,143.8 L199.6,142.9 L199.3,142 L199.2,141 L199.1,140.1 L199.5,139.2 L200,138.3 L200.6,137.4 L201.3,136.4 L201.5,135.5 L200.6,134.6 L199.8,133.7 L199.6,132.8 L198.6,131.8 L197.6,130.9 L197.5,130 L197.8,129.1 L197.5,128.2 L197.4,127.2 L198.2,126.3 L197.2,125.4 L196.5,124.5 L196.2,123.6 L196.8,122.6 L196.2,121.7 L195.9,120.8 L195.6,119.9 L195.9,119 L195.6,118 L195.2,117.1 L195.1,116.2 L194.9,115.3 L195.8,114.4 L196.1,113.4 L196,112.5 L196.4,111.6 L196.1,110.7 L196.2,109.8 L197.1,108.8 L197.6,107.9 L196.8,107Z" fill="#66bd58" stroke="#66bd58" stroke-width="0.5" stroke-linejoin="round"/><circle cx="192.9" cy="124.1" r="1.2" fill="#7fcb70" opacity="0.45"/><circle cx="195.9" cy="107.1" r="1.2" fill="#4ea647" opacity="0.45"/><circle cx="188.9" cy="120.9" r="1.1" fill="#7fcb70" opacity="0.45"/><circle cx="191.5" cy="129.1" r="0.9" fill="#4ea647" opacity="0.45"/><circle cx="194.2" cy="134.5" r="0.8" fill="#4ea647" opacity="0.45"/><circle cx="196.4" cy="141.4" r="1.4" fill="#4ea647" opacity="0.45"/><circle cx="191.1" cy="115" r="1.3" fill="#4ea647" opacity="0.45"/><circle cx="192.3" cy="129.5" r="0.8" fill="#4ea647" opacity="0.45"/><circle cx="195.9" cy="127.1" r="1.5" fill="#4ea647" opacity="0.45"/><circle cx="194.5" cy="138.3" r="1.4" fill="#7fcb70" opacity="0.45"/><circle cx="191.6" cy="110.5" r="1.4" fill="#4ea647" opacity="0.45"/><circle cx="193.4" cy="140.7" r="0.9" fill="#7fcb70" opacity="0.45"/><path d="M141.7,91.4 L140.6,92.3 L139.4,93.2 L138.3,94.1 L137.9,95 L137.7,95.9 L138.8,96.8 L139.6,97.7 L139.9,98.6 L140.6,99.5 L141.9,100.4 L141.6,101.3 L142,102.2 L143.4,103.1 L144.2,104 L143.7,104.9 L144,105.8 L143.7,106.7 L143.2,107.6 L141.9,108.5 L142.5,109.4 L141.3,110.3 L140.7,111.2 L141.2,112.1 L141.2,113 L140,113.9 L140.1,114.8 L140.7,115.7 L140.3,116.6 L140.9,117.5 L141.3,118.4 L141.4,119.3 L141.4,120.2 L140.7,121.1 L140.6,122 L139.8,122.9 L139.2,123.8 L139.1,124.7 L138.5,125.6 L138.4,126.5 L138.4,127.4 L138.3,128.3 L137.7,129.2 L138.3,130.1 L138.3,131.1 L137.3,132 L137.9,132.9 L138.3,133.8 L137.9,134.7 L137.8,135.6 L138.4,136.5 L139,137.4 L138.7,138.3 L139.7,139.2 L140,140.1 L140.5,141 L139.8,141.9 L140.3,142.8 L139.5,143.7 L139.4,144.6 L139.4,145.5 L140,146.4 L147.5,146.4 L148.2,145.5 L149.3,144.6 L149,143.7 L148.9,142.8 L148.8,141.9 L148.5,141 L148.4,140.1 L148.1,139.2 L148.2,138.3 L148.8,137.4 L147.7,136.5 L147.6,135.6 L148.2,134.7 L148.3,133.8 L147.7,132.9 L147.4,132 L147.8,131.1 L147.4,130.1 L146.3,129.2 L146.5,128.3 L146.9,127.4 L147.3,126.5 L146.8,125.6 L147,124.7 L146.6,123.8 L146.5,122.9 L145.6,122 L145.8,121.1 L146.4,120.2 L146.3,119.3 L146.7,118.4 L147.1,117.5 L147.8,116.6 L148.7,115.7 L149.3,114.8 L150.7,113.9 L151.9,113 L152.2,112.1 L151.4,111.2 L151.9,110.3 L152.3,109.4 L151.8,108.5 L151.7,107.6 L152.9,106.7 L152.5,105.8 L152.3,104.9 L152.5,104 L152.5,103.1 L151,102.2 L150.6,101.3 L150.3,100.4 L149.9,99.5 L148.8,98.6 L149.2,97.7 L149.7,96.8 L149.4,95.9 L150,95 L149.9,94.1 L149.1,93.2 L147.9,92.3 L146.6,91.4Z" fill="#66bd58" stroke="#66bd58" stroke-width="0.5" stroke-linejoin="round"/><circle cx="141.5" cy="124.8" r="1" fill="#7fcb70" opacity="0.45"/><circle cx="146.9" cy="140.4" r="0.8" fill="#7fcb70" opacity="0.45"/><circle cx="143.1" cy="122.5" r="1.5" fill="#7fcb70" opacity="0.45"/><circle cx="146.9" cy="121" r="1.2" fill="#4ea647" opacity="0.45"/><circle cx="142.7" cy="131.4" r="1.1" fill="#4ea647" opacity="0.45"/><circle cx="142" cy="124.1" r="1.5" fill="#4ea647" opacity="0.45"/><circle cx="142.4" cy="95.2" r="1.1" fill="#4ea647" opacity="0.45"/><circle cx="146.9" cy="113.4" r="1.2" fill="#4ea647" opacity="0.45"/><circle cx="144.2" cy="144.4" r="1.1" fill="#4ea647" opacity="0.45"/><circle cx="144.7" cy="140.8" r="1.3" fill="#4ea647" opacity="0.45"/><circle cx="140.8" cy="136.2" r="1" fill="#4ea647" opacity="0.45"/><circle cx="143.1" cy="136.8" r="0.9" fill="#7fcb70" opacity="0.45"/><circle cx="143.9" cy="129.3" r="1.6" fill="#7fcb70" opacity="0.45"/><circle cx="142.8" cy="126.1" r="1.4" fill="#4ea647" opacity="0.45"/><circle cx="142.2" cy="119.2" r="0.9" fill="#4ea647" opacity="0.45"/><circle cx="140.8" cy="122.5" r="1.2" fill="#4ea647" opacity="0.45"/><circle cx="139.9" cy="126.4" r="1.1" fill="#4ea647" opacity="0.45"/><circle cx="148.6" cy="108.3" r="0.8" fill="#7fcb70" opacity="0.45"/><path d="M163.9,112 L162.3,112.9 L162.3,113.8 L162.3,114.7 L162.1,115.6 L161.5,116.5 L161.5,117.4 L161.6,118.3 L161.1,119.2 L161.4,120.1 L161.5,121 L160.6,121.9 L160,122.8 L160,123.7 L160.2,124.7 L159.9,125.6 L160.5,126.5 L160.5,127.4 L160.5,128.3 L161.5,129.2 L161.7,130.1 L160.4,131 L159.6,131.9 L159.7,132.8 L160.2,133.7 L160.3,134.6 L162,135.5 L162.5,136.4 L162.8,137.3 L162.2,138.2 L163.8,139.1 L164.8,140 L165.5,140.9 L165.8,141.8 L167.2,142.7 L166.7,143.6 L167.3,144.5 L167.9,145.4 L167.5,146.3 L167.5,147.2 L167.9,148.2 L168,149.1 L167.1,150 L167.2,150.9 L167.5,151.8 L167,152.7 L166.6,153.6 L167.1,154.5 L167.7,155.4 L166.6,156.3 L166.2,157.2 L167,158.1 L166.3,159 L166.8,159.9 L167,160.8 L168,161.7 L167.9,162.6 L174.9,162.6 L174.8,161.7 L175.6,160.8 L175.9,159.9 L175.2,159 L175.7,158.1 L176.9,157.2 L178.2,156.3 L178.1,155.4 L179.1,154.5 L179,153.6 L178,152.7 L177.7,151.8 L178.1,150.9 L177.7,150 L177.5,149.1 L177.6,148.2 L177.3,147.2 L177.5,146.3 L177.4,145.4 L176.5,144.5 L176.1,143.6 L175.4,142.7 L174.1,141.8 L173.3,140.9 L172.6,140 L171.4,139.1 L171,138.2 L170.7,137.3 L170.3,136.4 L170.5,135.5 L170.2,134.6 L170.4,133.7 L170.1,132.8 L170.9,131.9 L171.2,131 L170.9,130.1 L170.1,129.2 L169.6,128.3 L170.2,127.4 L170.2,126.5 L170.2,125.6 L170.9,124.7 L170.7,123.7 L170.8,122.8 L171.2,121.9 L172.2,121 L173,120.1 L173,119.2 L173.2,118.3 L174,117.4 L173.9,116.5 L173.7,115.6 L173.6,114.7 L172.8,113.8 L171.4,112.9 L171,112Z" fill="#66bd58" stroke="#66bd58" stroke-width="0.5" stroke-linejoin="round"/><circle cx="169.4" cy="143.1" r="1.4" fill="#7fcb70" opacity="0.45"/><circle cx="170.2" cy="159.9" r="1.7" fill="#4ea647" opacity="0.45"/><circle cx="168" cy="137.5" r="1.6" fill="#4ea647" opacity="0.45"/><circle cx="162.3" cy="134.9" r="1.5" fill="#7fcb70" opacity="0.45"/><circle cx="175" cy="146.1" r="1.6" fill="#7fcb70" opacity="0.45"/><circle cx="169.4" cy="150.6" r="1.5" fill="#4ea647" opacity="0.45"/><circle cx="165.9" cy="125.2" r="1.8" fill="#4ea647" opacity="0.45"/><circle cx="163.7" cy="123.9" r="1.8" fill="#4ea647" opacity="0.45"/><circle cx="165.7" cy="130.1" r="1.1" fill="#7fcb70" opacity="0.45"/><circle cx="168.6" cy="118.9" r="1.3" fill="#7fcb70" opacity="0.45"/><circle cx="163.6" cy="124" r="1.4" fill="#7fcb70" opacity="0.45"/><circle cx="168.3" cy="118.7" r="1.5" fill="#4ea647" opacity="0.45"/><circle cx="170" cy="156.8" r="1.4" fill="#7fcb70" opacity="0.45"/><circle cx="168.9" cy="143.9" r="1.3" fill="#4ea647" opacity="0.45"/><circle cx="170.4" cy="146.3" r="1.8" fill="#7fcb70" opacity="0.45"/><circle cx="170.2" cy="154.1" r="1.2" fill="#7fcb70" opacity="0.45"/></g>
<path d="M410.6,135 L409.6,135.9 L408.8,136.8 L407.8,137.7 L406.8,138.6 L406.8,139.5 L406.7,140.4 L406.2,141.3 L405.9,142.2 L406.4,143.1 L405.8,144 L405.6,144.9 L405.1,145.8 L405.3,146.7 L404.8,147.6 L405.4,148.5 L406.2,149.4 L406.3,150.3 L406.4,151.2 L405.5,152.1 L404.7,153 L403.4,153.9 L403.9,154.8 L404.3,155.7 L405.2,156.6 L405.4,157.5 L405.5,158.4 L406.1,159.3 L405.8,160.2 L406.2,161.1 L405.8,162 L405,162.9 L406,163.8 L406.8,164.7 L407.7,165.6 L408.4,166.5 L408.8,167.4 L408.6,168.3 L409.1,169.2 L409.4,170.1 L409.4,171 L409.2,171.9 L408.5,172.8 L408.8,173.7 L409.3,174.6 L409.3,175.5 L409.3,176.4 L409,177.3 L407.5,178.2 L406.8,179.1 L406.3,180 L407.3,180.9 L407.7,181.8 L408,182.7 L407.2,183.6 L406.3,184.5 L406,185.4 L406.3,186.3 L406.9,187.2 L408.6,188.1 L408.6,189 L415.9,189 L415.2,188.1 L416,187.2 L415.8,186.3 L416,185.4 L415.3,184.5 L416.6,183.6 L417.1,182.7 L417.4,181.8 L417.4,180.9 L417.5,180 L417.8,179.1 L417.7,178.2 L418.5,177.3 L419.3,176.4 L419.2,175.5 L419.2,174.6 L418.6,173.7 L418.1,172.8 L418,171.9 L417.3,171 L417.2,170.1 L417.6,169.2 L417,168.3 L417,167.4 L417.4,166.5 L416.6,165.6 L416.1,164.7 L415.7,163.8 L414.6,162.9 L414.7,162 L415.2,161.1 L414.1,160.2 L414.4,159.3 L414.1,158.4 L414.5,157.5 L414.7,156.6 L415.1,155.7 L414.9,154.8 L413.9,153.9 L414.5,153 L415.1,152.1 L414.9,151.2 L415.3,150.3 L415.4,149.4 L415.5,148.5 L415.5,147.6 L416.8,146.7 L415.7,145.8 L416.2,144.9 L416.5,144 L416.6,143.1 L417.2,142.2 L417.8,141.3 L417.9,140.4 L417.9,139.5 L417.2,138.6 L417.1,137.7 L417.2,136.8 L418,135.9 L416.7,135Z" fill="#66bd58" stroke="#66bd58" stroke-width="0.5" stroke-linejoin="round"/><circle cx="408.2" cy="149" r="1.6" fill="#4ea647" opacity="0.45"/><circle cx="415.5" cy="171.2" r="1.3" fill="#7fcb70" opacity="0.45"/><circle cx="412" cy="164.1" r="1.5" fill="#7fcb70" opacity="0.45"/><circle cx="412.7" cy="135.7" r="1" fill="#4ea647" opacity="0.45"/><circle cx="407.8" cy="161.1" r="1.5" fill="#4ea647" opacity="0.45"/><circle cx="413.1" cy="144.8" r="1.4" fill="#7fcb70" opacity="0.45"/><circle cx="414.8" cy="180.5" r="1.4" fill="#7fcb70" opacity="0.45"/><circle cx="412.1" cy="156.2" r="1.4" fill="#4ea647" opacity="0.45"/><circle cx="408.8" cy="154.5" r="1.1" fill="#4ea647" opacity="0.45"/><circle cx="410" cy="166.8" r="1" fill="#7fcb70" opacity="0.45"/><circle cx="412.6" cy="174.3" r="1.2" fill="#7fcb70" opacity="0.45"/><circle cx="409.6" cy="152" r="1.2" fill="#4ea647" opacity="0.45"/><circle cx="413.5" cy="136.1" r="1.7" fill="#4ea647" opacity="0.45"/><circle cx="414.2" cy="169.1" r="1" fill="#7fcb70" opacity="0.45"/><circle cx="410.8" cy="149.8" r="1.1" fill="#4ea647" opacity="0.45"/><circle cx="412.6" cy="166" r="1" fill="#4ea647" opacity="0.45"/><circle cx="413.4" cy="136.8" r="1.5" fill="#4ea647" opacity="0.45"/><circle cx="415.1" cy="176.8" r="1.4" fill="#7fcb70" opacity="0.45"/>
<path d="M495,145 L494.1,145.9 L493.3,146.8 L493.1,147.8 L493.6,148.7 L493.5,149.6 L493.8,150.5 L494.5,151.4 L494.6,152.4 L494.9,153.3 L495,154.2 L495.2,155.1 L496.3,156 L497.1,156.9 L497.2,157.9 L497,158.8 L497.8,159.7 L497.8,160.6 L497.6,161.5 L497.6,162.5 L497.5,163.4 L497.8,164.3 L497.1,165.2 L497.1,166.1 L497.2,167.1 L496.7,168 L495.3,168.9 L495.7,169.8 L496,170.7 L495.2,171.6 L495.2,172.6 L495.6,173.5 L495.6,174.4 L495.6,175.3 L495.8,176.2 L495.8,177.2 L496.2,178.1 L495.9,179 L502.6,179 L502.4,178.1 L502.3,177.2 L502.5,176.2 L502.8,175.3 L502.4,174.4 L501.6,173.5 L502.2,172.6 L501.9,171.6 L501.8,170.7 L501.3,169.8 L501.2,168.9 L501.6,168 L501.7,167.1 L501.9,166.1 L502.6,165.2 L503.5,164.3 L503.7,163.4 L503.9,162.5 L504.1,161.5 L503.6,160.6 L503,159.7 L502.4,158.8 L502.7,157.9 L503,156.9 L502.6,156 L502.7,155.1 L502.6,154.2 L502.5,153.3 L501.8,152.4 L501.7,151.4 L501.1,150.5 L501.1,149.6 L501.3,148.7 L501.5,147.8 L501.5,146.8 L500.6,145.9 L499.3,145Z" fill="#66bd58" stroke="#66bd58" stroke-width="0.5" stroke-linejoin="round"/><circle cx="497.9" cy="171.4" r="0.9" fill="#4ea647" opacity="0.45"/><circle cx="495.9" cy="150.1" r="1" fill="#4ea647" opacity="0.45"/><circle cx="500.1" cy="163" r="1" fill="#7fcb70" opacity="0.45"/><circle cx="499.3" cy="178.4" r="0.9" fill="#7fcb70" opacity="0.45"/><circle cx="498.7" cy="175.6" r="0.7" fill="#4ea647" opacity="0.45"/><circle cx="498.3" cy="148.7" r="0.6" fill="#4ea647" opacity="0.45"/><circle cx="499.9" cy="176.1" r="0.8" fill="#4ea647" opacity="0.45"/><circle cx="500.2" cy="164.2" r="1.1" fill="#4ea647" opacity="0.45"/><circle cx="498.4" cy="166.3" r="0.7" fill="#7fcb70" opacity="0.45"/><circle cx="497.2" cy="169.1" r="0.8" fill="#7fcb70" opacity="0.45"/><circle cx="499.5" cy="170.8" r="0.7" fill="#7fcb70" opacity="0.45"/>
<path d="M569,89 L567.4,89.9 L567.6,90.8 L566.5,91.7 L565.6,92.6 L564.9,93.6 L565.7,94.5 L564.5,95.4 L564.9,96.3 L564.7,97.2 L564.8,98.1 L564.4,99 L563.6,99.9 L563.8,100.9 L563.4,101.8 L562.4,102.7 L563.1,103.6 L564.5,104.5 L565,105.4 L563.7,106.3 L564.6,107.2 L563.8,108.2 L563.7,109.1 L562.1,110 L562.9,110.9 L562.6,111.8 L562.2,112.7 L562.1,113.6 L562.7,114.5 L561.4,115.5 L560.3,116.4 L559.5,117.3 L558.7,118.2 L559.7,119.1 L560.6,120 L560.2,120.9 L560.9,121.8 L562.7,122.8 L562.6,123.7 L562.7,124.6 L563.6,125.5 L564,126.4 L564.2,127.3 L563.5,128.2 L563.8,129.1 L563.4,130.1 L563,131 L562.1,131.9 L563.2,132.8 L563.2,133.7 L563.9,134.6 L563.1,135.5 L563.8,136.4 L563.1,137.4 L563.1,138.3 L563.2,139.2 L564.4,140.1 L563.9,141 L572.1,141 L572.5,140.1 L572.9,139.2 L573.4,138.3 L574.1,137.4 L573,136.4 L573.3,135.5 L573.3,134.6 L573.2,133.7 L572.9,132.8 L573.3,131.9 L573.2,131 L573.1,130.1 L573.4,129.1 L573.1,128.2 L573.6,127.3 L572.6,126.4 L572.9,125.5 L571.5,124.6 L570.6,123.7 L569.6,122.8 L569,121.8 L569.5,120.9 L570.2,120 L569.8,119.1 L569.8,118.2 L569.4,117.3 L569.5,116.4 L569.8,115.5 L570.8,114.5 L570.8,113.6 L571.5,112.7 L572.2,111.8 L572.4,110.9 L573.2,110 L573.9,109.1 L574.6,108.2 L575.1,107.2 L575.7,106.3 L576.6,105.4 L576,104.5 L575.4,103.6 L574.5,102.7 L574.5,101.8 L575.2,100.9 L574.9,99.9 L575.7,99 L576.2,98.1 L575.9,97.2 L575.6,96.3 L575.5,95.4 L575.5,94.5 L575.9,93.6 L577.4,92.6 L578.6,91.7 L578.2,90.8 L577.5,89.9 L576.3,89Z" fill="#66bd58" stroke="#66bd58" stroke-width="0.5" stroke-linejoin="round"/><circle cx="567.3" cy="122.1" r="1.1" fill="#7fcb70" opacity="0.45"/><circle cx="566.8" cy="138.8" r="1.6" fill="#4ea647" opacity="0.45"/><circle cx="567.4" cy="126.3" r="0.9" fill="#7fcb70" opacity="0.45"/><circle cx="567.6" cy="139.4" r="1.4" fill="#7fcb70" opacity="0.45"/><circle cx="569.1" cy="107.3" r="1.4" fill="#4ea647" opacity="0.45"/><circle cx="573.6" cy="99" r="1.5" fill="#7fcb70" opacity="0.45"/><circle cx="570.6" cy="92.3" r="1.6" fill="#4ea647" opacity="0.45"/><circle cx="567.5" cy="128.3" r="1.3" fill="#7fcb70" opacity="0.45"/><circle cx="569.5" cy="137.7" r="1.6" fill="#4ea647" opacity="0.45"/><circle cx="564.5" cy="119.8" r="1.3" fill="#7fcb70" opacity="0.45"/><circle cx="567.4" cy="110.6" r="1.7" fill="#7fcb70" opacity="0.45"/><circle cx="566.4" cy="109.7" r="1.5" fill="#4ea647" opacity="0.45"/><circle cx="568.2" cy="123.9" r="1.2" fill="#4ea647" opacity="0.45"/><circle cx="567.1" cy="137.1" r="1.2" fill="#7fcb70" opacity="0.45"/><circle cx="565.8" cy="129" r="1.1" fill="#4ea647" opacity="0.45"/><circle cx="561" cy="118.7" r="1.3" fill="#4ea647" opacity="0.45"/><circle cx="561.3" cy="118.3" r="1.5" fill="#4ea647" opacity="0.45"/>
<path d="M600.3,102 L598.6,102.9 L598,103.8 L597.8,104.7 L597.6,105.6 L597.3,106.5 L597.2,107.5 L596.7,108.4 L596.7,109.3 L596.8,110.2 L596.4,111.1 L596.3,112 L596.8,112.9 L597.4,113.8 L597.8,114.7 L598,115.6 L598.1,116.5 L598.3,117.5 L598.6,118.4 L598.8,119.3 L598.6,120.2 L598.3,121.1 L598.1,122 L601.2,122 L602,121.1 L602.7,120.2 L602.6,119.3 L602.7,118.4 L602.8,117.5 L602.5,116.5 L602,115.6 L601.8,114.7 L601.2,113.8 L600.2,112.9 L600.5,112 L601,111.1 L600.9,110.2 L600.8,109.3 L601.3,108.4 L601.5,107.5 L602,106.5 L602.8,105.6 L603.3,104.7 L603.7,103.8 L603.5,102.9 L602.6,102Z" fill="#66bd58" stroke="#66bd58" stroke-width="0.5" stroke-linejoin="round"/><circle cx="598.6" cy="108.2" r="0.6" fill="#4ea647" opacity="0.45"/><circle cx="601.4" cy="105" r="0.8" fill="#7fcb70" opacity="0.45"/><circle cx="599.6" cy="121.5" r="0.5" fill="#7fcb70" opacity="0.45"/><circle cx="600.4" cy="106.5" r="0.4" fill="#7fcb70" opacity="0.45"/><circle cx="599.6" cy="105" r="0.5" fill="#7fcb70" opacity="0.45"/><circle cx="601.8" cy="104.3" r="0.4" fill="#4ea647" opacity="0.45"/>
<g transform="translate(578.6,0)"><polygon points="69.5,178.8 175.6,208.8 175.6,222.9 70.5,189.5" fill="#cfcfcf"/><polygon points="175.6,208.8 334,113.3 334,121.3 175.6,222.9" fill="#cccccc"/><polygon points="69.5,178.8 259,105 334,113.3 175.6,208.8" fill="#dcdcdc"/><path d="M290,104.5L290.7,104.8L291.4,105.1L291.9,105.5L292.3,105.8L292.5,106.1L292.5,106.5L292.2,106.8L291.8,107.1L291.3,107.5L290.6,107.8L289.8,108.1L289.1,108.5L288.5,108.8L288,109.1L287.6,109.5L287.5,109.8L287.6,110.1L287.8,110.5L288.3,110.8L288.9,111.1L289.6,111.5L290.3,111.8L291,112.1L291.6,112.5L292.1,112.8L292.4,113.1L292.5,113.5L292.4,113.8L292.1,114.1L291.6,114.5L291,114.8L290.3,115.1L289.5,115.5L288.8,115.8L288.2,116.1L287.8,116.5L287.5,116.8L287.5,117.1L287.6,117.5L288,117.8" stroke="#7143a6" stroke-width="1.55" fill="none"/><path d="M288.6,103.7Q289.3,105.9 288.4,107.5M287.4,102.9Q286.1,104 285.9,106.3M286.6,101.5Q285.5,103.8 283.7,103.8M286.5,99.8Q284.7,99.5 282.8,100.4M286.9,98.6Q285.4,97.7 283.3,97.8M287.8,97.6Q286.6,96.3 286.4,94.4M289.5,96.8Q287.7,95.5 287.9,93.8M291,96.9Q292.4,95.5 292,93.5M292.5,97.8Q292.6,95.6 294.3,94.8M293.1,98.6Q295.2,98.6 296.3,96.8M293.6,100Q295.5,99.9 297.3,98.5M293.4,101.6Q295.6,101 297.2,102.6M292.5,103Q293.4,104.8 295.6,105.3M291.3,103.8Q290.6,105.9 291.6,107.3M289.7,104Q288.6,105.5 288.9,107.1" stroke="#f0a25a" stroke-width="1" stroke-linecap="round" fill="none"/><circle cx="290" cy="100.4" r="4.2" fill="#f6b472" stroke="#f0a25a" stroke-width="0.5"/><path d="M247.2,108.7L248.1,109.1L248.9,109.5L249.6,109.9L250,110.3L250.3,110.7L250.2,111.1L249.9,111.5L249.4,111.9L248.7,112.3L247.9,112.7L247,113.1L246.1,113.6L245.3,114L244.7,114.4L244.3,114.8L244.1,115.2L244.2,115.6L244.6,116L245.1,116.4L245.9,116.8L246.7,117.2L247.6,117.6L248.5,118.1L249.2,118.5L249.8,118.9L250.2,119.3L250.3,119.7L250.1,120.1L249.7,120.5L249.1,120.9L248.3,121.3L247.5,121.7L246.6,122.1L245.7,122.5L245,123L244.5,123.4L244.2,123.8L244.1,124.2L244.3,124.6L244.8,125" stroke="#7143a6" stroke-width="1.55" fill="none"/><path d="M243.8,106.5Q243.1,108.7 240.9,109M243,105Q241.5,106.9 239.4,106.9M242.9,102.8Q240.9,101.8 238.5,103.1M243.6,101.2Q242.9,98.3 240.6,97.5M245,99.9Q243,98.4 242.4,96.2M246.1,99.4Q246.5,97.3 244.2,95.8M247.9,99.4Q248.8,97.5 247.4,95.2M249.7,100.1Q250.4,98.2 252.9,97.6M251.2,101.8Q253.9,102.1 255.8,100.4M251.6,103.2Q253.6,102.1 255.8,102.4M251.4,104.9Q253.6,104.4 255.4,105.4M250.4,106.7Q251.9,108.2 252.4,110.8M249.2,107.6Q248.8,110.2 250.6,111.6M247.2,108.1Q246.1,110.1 247.2,112.1M245.5,107.8Q243.4,109 243.2,111.1" stroke="#f0a25a" stroke-width="1.3" stroke-linecap="round" fill="none"/><circle cx="247.2" cy="103.7" r="5.1" fill="#f6b472" stroke="#f0a25a" stroke-width="0.5"/><path d="M212.8,122.6L213.9,123.1L214.9,123.6L215.6,124.1L216.1,124.6L216.1,125.1L215.9,125.6L215.3,126.1L214.4,126.6L213.4,127.1L212.3,127.7L211.2,128.2L210.3,128.7L209.7,129.2L209.5,129.7L209.5,130.2L210,130.7L210.7,131.2L211.7,131.7L212.8,132.2L213.9,132.7L214.9,133.2L215.6,133.7L216.1,134.2L216.1,134.7L215.9,135.2L215.3,135.7L214.4,136.2L213.4,136.7L212.3,137.2L211.2,137.8L210.3,138.3L209.7,138.8L209.5,139.3L209.5,139.8L210,140.3L210.7,140.8L211.7,141.3L212.8,141.8L213.9,142.3L214.8,142.8" stroke="#7143a6" stroke-width="1.55" fill="none"/><path d="M211.1,112.7Q211.9,110.1 211.1,108.1M213.1,112.4Q211.9,110.2 213.5,108.2M214.8,112.8Q214,110 215.5,108.2M216.7,114.4Q217.3,111.4 219.7,110.9M217.5,116.3Q220,116.3 222.1,114.2M217.6,117.5Q219.7,118.1 221.8,117M216.8,119.9Q217.4,123 219.8,123.4M215.5,121.2Q218,122.1 218.8,124.2M213.6,121.9Q214.9,124.4 214,127.2M211.4,121.8Q213,124.8 211.6,127M209.6,120.8Q208.8,123.4 206.3,124.5M208.5,119.3Q205.7,118.4 204,119.6M208,117.2Q205.9,118.6 203.8,118.5M208.4,115.4Q206.8,113 204.2,113.1M209.3,113.9Q206.1,113.9 204.9,111.7" stroke="#f0a25a" stroke-width="1.4" stroke-linecap="round" fill="none"/><circle cx="212.8" cy="117.2" r="5.6" fill="#f6b472" stroke="#f0a25a" stroke-width="0.5"/><path d="M266.2,122.6L267.3,123.1L268.3,123.6L268.9,124.1L269.2,124.6L269,125.2L268.4,125.7L267.5,126.2L266.4,126.7L265.3,127.2L264.3,127.8L263.6,128.3L263.2,128.8L263.3,129.3L263.9,129.8L264.7,130.3L265.8,130.9L266.9,131.4L267.9,131.9L268.7,132.4L269.1,132.9L269.1,133.5L268.7,134L267.9,134.5L266.8,135L265.7,135.5L264.6,136L263.8,136.6L263.3,137.1L263.3,137.6L263.6,138.1L264.4,138.6L265.4,139.2L266.5,139.7L267.6,140.2L268.5,140.7L269,141.2L269.2,141.7L268.9,142.3L268.2,142.8L267.2,143.3" stroke="#7143a6" stroke-width="1.55" fill="none"/><path d="M265.2,113.7Q262.8,112 263,109.7M267.1,113.7Q265.9,111.4 267.2,109.7M268.8,114.4Q269.4,112.3 272.2,111.8M269.9,115.8Q272.5,116.1 273.7,114.1M270.4,117.9Q272.4,116 274.2,116.9M270.1,119.6Q272.1,120.2 273.5,122.2M269.2,120.8Q269.8,123.3 272.2,124.1M267.7,121.8Q268.7,123.6 268.2,126M266.1,122Q267.4,124.3 266.1,126.5M263.9,121.4Q263.7,123.7 261.4,124.7M262.9,120.5Q262.1,122.8 259.7,123.2M262,118.6Q260.1,120.7 257.7,120.2M262,117.4Q260,118.5 258.2,117.3M262.6,115.5Q260.1,115.9 259,114M263.7,114.4Q261.9,113 261.5,110.6" stroke="#f0a25a" stroke-width="1.2" stroke-linecap="round" fill="none"/><circle cx="266.2" cy="117.8" r="4.9" fill="#f6b472" stroke="#f0a25a" stroke-width="0.5"/><path d="M231.8,135.8L233,136.3L234.1,136.9L234.9,137.5L235.2,138.1L235.2,138.6L234.7,139.2L233.8,139.8L232.7,140.3L231.5,140.9L230.3,141.5L229.3,142L228.6,142.6L228.3,143.2L228.5,143.7L229.1,144.3L230.1,144.9L231.2,145.4L232.5,146L233.6,146.6L234.5,147.1L235.1,147.7L235.3,148.3L235,148.8L234.3,149.4L233.2,150L232,150.5L230.8,151.1L229.7,151.7L228.9,152.3L228.4,152.8L228.4,153.4L228.8,154L229.6,154.5L230.7,155.1L231.9,155.7L233.1,156.2L234.2,156.8L234.9,157.4L235.3,157.9L235.2,158.5" stroke="#7143a6" stroke-width="1.55" fill="none"/><path d="M235.1,133.9Q236.6,135.9 239.6,136.7M233.1,135Q232.2,137.6 233.5,139.6M231.5,135.1Q232,137.5 230.3,139.7M229.3,134.5Q227.1,136.1 227,139.1M228,133.4Q226.1,135.3 223.1,135.9M227,131.3Q224.9,134.1 222.1,133.8M227.1,128.7Q225.2,126.3 222.9,125.5M228.1,126.9Q225.9,125.7 225,123M229.7,125.7Q230.9,122.7 229.2,121.1M231.5,125.2Q229.7,122.8 229.6,120.3M233.8,125.7Q236,124 235.1,121M235,126.4Q235.3,123.7 238,123.1M236.5,128.7Q238.9,128.8 240.5,126.2M236.8,130.4Q239.1,129.3 241.3,130.3M236.1,132.6Q239.6,131.7 241.7,133.5" stroke="#f0a25a" stroke-width="1.4" stroke-linecap="round" fill="none"/><circle cx="231.8" cy="130.2" r="5.8" fill="#f6b472" stroke="#f0a25a" stroke-width="0.5"/><path d="M99,148.2L100.7,149L102.1,149.8L103,150.6L103.3,151.3L103,152.1L102,152.9L100.6,153.7L98.9,154.4L97.2,155.2L95.8,156L95,156.8L94.7,157.6L95.1,158.3L96.1,159.1L97.6,159.9L99.2,160.7L100.9,161.4L102.2,162.2L103.1,163L103.3,163.8L102.9,164.5L101.8,165.3L100.3,166.1L98.6,166.9L97,167.6L95.7,168.4L94.9,169.2L94.7,170L95.2,170.8L96.3,171.5L97.8,172.3L99.5,173.1L101.1,173.9L102.4,174.6L103.2,175.4L103.3,176.2L102.7,177L101.6,177.7L100.1,178.5L98.4,179.3" stroke="#7143a6" stroke-width="1.55" fill="none"/><path d="M93,139.7Q90,139.6 87.9,136.2M94.6,137Q93.9,133.2 90.2,132.5M96.3,135.8Q92.8,134.4 92.7,131.3M99.3,135.1Q101.3,132.1 99.1,128.9M101.9,135.9Q104.7,134.3 105,131.4M103.2,136.8Q106.4,135.4 107.1,131.8M104.9,139.7Q107.7,139.7 109.7,136.8M105.1,141.7Q108.2,144.3 111.5,144.5M104,144.9Q107.3,145.2 109.1,147.7M103,146Q105.8,147.4 106.2,150.8M100.8,147.2Q101,150 104.4,151.9M97.8,147.3Q98.6,150.4 96.1,152.9M95.3,146.2Q91.6,147.5 90.9,150.9M93.5,144.1Q91.5,146.8 88.6,147.8M92.8,141.5Q89.6,143.3 86.2,141.1" stroke="#f0a25a" stroke-width="1.8" stroke-linecap="round" fill="none"/><circle cx="99" cy="141.3" r="7.2" fill="#f6b472" stroke="#f0a25a" stroke-width="0.5"/><path d="M194.2,149.7L195.5,150.3L196.6,150.9L197.4,151.5L197.9,152.1L198,152.7L197.6,153.2L196.8,153.8L195.8,154.4L194.5,155L193.3,155.6L192.1,156.2L191.2,156.8L190.6,157.4L190.4,157.9L190.7,158.5L191.3,159.1L192.3,159.7L193.5,160.3L194.8,160.9L196,161.5L197,162L197.7,162.6L198,163.2L197.9,163.8L197.3,164.4L196.4,165L195.2,165.6L193.9,166.2L192.7,166.7L191.6,167.3L190.8,167.9L190.4,168.5L190.5,169.1L190.9,169.7L191.7,170.3L192.8,170.9L194.1,171.4L195.4,172L196.5,172.6L197.4,173.2" stroke="#7143a6" stroke-width="1.55" fill="none"/><path d="M194.4,138.2Q192.5,135.3 192.4,132.6M196,138.5Q199.5,136.9 199.7,134.1M198.3,140.1Q199.7,137.5 202.9,136.9M199.2,141.5Q201.5,139.5 204.9,140.3M199.6,143.8Q202.5,141.6 205.3,142.9M199,146.1Q201.1,148.1 204.5,147.7M197.4,148Q199.9,149.5 200,152.7M195.1,149Q194.7,151.4 197.3,153.4M192.8,148.9Q192,151.4 192.9,154.5M191.1,148.1Q188.3,149.5 187.3,152.2M189.4,146.2Q188.1,149.2 184.8,148.9M188.8,144Q186.3,144.3 183.9,146.2M189,141.9Q187.3,138.2 184.4,138.1M190.1,140Q187.7,138.4 187.1,134.7M191.7,138.8Q190.1,136.7 191.1,133.2" stroke="#f0a25a" stroke-width="1.6" stroke-linecap="round" fill="none"/><circle cx="194.2" cy="143.6" r="6.3" fill="#f6b472" stroke="#f0a25a" stroke-width="0.5"/><path d="M144.6,150.5L146,151.2L147.2,151.8L148.1,152.5L148.5,153.1L148.3,153.8L147.6,154.5L146.5,155.1L145.1,155.8L143.7,156.4L142.4,157.1L141.4,157.8L140.8,158.4L140.8,159.1L141.3,159.7L142.3,160.4L143.5,161.1L145,161.7L146.4,162.4L147.5,163L148.2,163.7L148.5,164.4L148.1,165L147.3,165.7L146.2,166.3L144.7,167L143.3,167.7L142.1,168.3L141.2,169L140.8,169.6L140.9,170.3L141.5,171L142.6,171.6L143.9,172.3L145.4,172.9L146.7,173.6L147.7,174.3L148.3,174.9L148.4,175.6L148,176.2L147.1,176.9" stroke="#7143a6" stroke-width="1.55" fill="none"/><path d="M140.7,140.4Q140,137.6 136.8,137.3M142.8,139.1Q142.6,136.7 139.4,135.3M145,138.8Q146.2,136 145,133.1M147.6,139.7Q150.2,138.5 151.1,136.2M149.3,141.4Q152.7,141.6 155,140M149.9,142.6Q152.2,141.4 155.3,142.6M150,145.3Q152.8,143.9 155.3,144.3M149,147.6Q150.9,149.7 154.3,149.7M147.6,148.9Q147.1,152.7 149.6,154.4M144.9,149.8Q145.8,152.5 143.4,155.4M143.4,149.7Q144.5,152.8 142.5,155.4M141.1,148.6Q139.8,150.5 136.8,151.2M139.6,146.7Q137,147.1 135.5,149.9M139.1,144.7Q136.4,145.5 133.6,144.3M139.4,142.5Q137.8,139.5 135.3,139.2" stroke="#f0a25a" stroke-width="1.6" stroke-linecap="round" fill="none"/><circle cx="144.6" cy="144.3" r="6.4" fill="#f6b472" stroke="#f0a25a" stroke-width="0.5"/><path d="M170.7,167.2L172.5,168.1L173.9,168.9L174.8,169.7L175,170.5L174.4,171.4L173.1,172.2L171.5,173L169.7,173.9L168,174.7L166.9,175.5L166.4,176.4L166.7,177.2L167.7,178L169.2,178.8L171,179.7L172.7,180.5L174.1,181.3L174.9,182.2L174.9,183L174.2,183.8L172.9,184.6L171.2,185.5L169.4,186.3L167.8,187.1L166.8,188L166.4,188.8L166.8,189.6L167.8,190.4L169.4,191.3L171.2,192.1L172.9,192.9L174.2,193.8L174.9,194.6L174.9,195.4L174.1,196.3L172.7,197.1L171,197.9L169.2,198.7L167.6,199.6L166.7,200.4" stroke="#7143a6" stroke-width="1.55" fill="none"/><path d="M164.9,162.3Q162.3,164.7 158.9,164.7M164.5,159.9Q161.5,159 158.4,160.5M165.5,157.1Q163.7,153.6 160.6,152.5M167.4,155.1Q164.2,153.8 163.5,150.9M169.6,154.2Q168.5,151.5 169.5,148.3M172.6,154.4Q175.8,152.4 175,149M174.7,155.7Q174.8,151.5 177.1,149.3M176.2,157.6Q180,158.1 182.9,157M176.8,159.6Q180.4,162.2 183.5,160.6M176.6,162Q180,160 182.3,162M175,164.7Q176,168.1 178.4,170.1M172.8,166.1Q176.1,167.7 176.2,170.5M170.8,166.5Q169.7,169.2 172.1,171.9M168.5,166.1Q168.8,169.1 166.5,171.2M166.3,164.6Q163.5,166 163.7,170.5" stroke="#f0a25a" stroke-width="1.8" stroke-linecap="round" fill="none"/><circle cx="170.7" cy="160.3" r="7.2" fill="#f6b472" stroke="#f0a25a" stroke-width="0.5"/><path d="M289.7,80 L288.1,80.9 L287.7,81.8 L287.8,82.7 L287.4,83.6 L287,84.5 L287.1,85.4 L286.9,86.3 L286.2,87.2 L285.8,88.2 L285.5,89.1 L285.7,90 L286.2,90.9 L286.7,91.8 L286.7,92.7 L287,93.6 L287.2,94.5 L287.2,95.4 L287,96.3 L287.9,97.2 L287.7,98.1 L288,99 L287.6,99.9 L288.1,100.8 L288.1,101.8 L292.4,101.8 L293.1,100.8 L293.3,99.9 L293.1,99 L292.8,98.1 L292.4,97.2 L291.7,96.3 L291.1,95.4 L290.6,94.5 L289.8,93.6 L290.1,92.7 L290.3,91.8 L290.4,90.9 L290.8,90 L290.8,89.1 L291.1,88.2 L291,87.2 L291.2,86.3 L291.8,85.4 L292.3,84.5 L292.5,83.6 L293.4,82.7 L293.9,81.8 L293.7,80.9 L292.3,80Z" fill="#66bd58" stroke="#66bd58" stroke-width="0.5" stroke-linejoin="round"/><circle cx="289.5" cy="95.7" r="0.8" fill="#4ea647" opacity="0.45"/><circle cx="290.1" cy="80.5" r="0.7" fill="#7fcb70" opacity="0.45"/><circle cx="290.1" cy="100.7" r="0.6" fill="#7fcb70" opacity="0.45"/><circle cx="288.9" cy="97.7" r="0.7" fill="#4ea647" opacity="0.45"/><circle cx="290.9" cy="97.5" r="0.8" fill="#4ea647" opacity="0.45"/><circle cx="287.8" cy="93.2" r="0.6" fill="#7fcb70" opacity="0.45"/><circle cx="289.7" cy="97" r="0.7" fill="#7fcb70" opacity="0.45"/><path d="M242.3,79 L241.7,79.9 L241.7,80.8 L242.1,81.7 L242.2,82.6 L242.4,83.5 L242.9,84.5 L243.4,85.4 L243.8,86.3 L244.1,87.2 L244.1,88.1 L244.3,89 L245,89.9 L245.1,90.8 L245.5,91.7 L245.7,92.6 L246.3,93.5 L245.4,94.4 L246,95.4 L245.6,96.3 L245.7,97.2 L245.4,98.1 L244.4,99 L243.3,99.9 L243.2,100.8 L243.2,101.7 L242.7,102.6 L243.2,103.5 L243.9,104.4 L244.2,105.4 L249.3,105.4 L249.6,104.4 L249.4,103.5 L249.6,102.6 L249.5,101.7 L249.1,100.8 L248.7,99.9 L249.8,99 L250.8,98.1 L250.9,97.2 L251.3,96.3 L252.1,95.4 L251.7,94.4 L252.1,93.5 L252.6,92.6 L252.4,91.7 L252.7,90.8 L252.9,89.9 L253.2,89 L252.2,88.1 L251.5,87.2 L250.5,86.3 L249.8,85.4 L249.3,84.5 L249.4,83.5 L250,82.6 L249.8,81.7 L249.5,80.8 L249.1,79.9 L247.3,79Z" fill="#66bd58" stroke="#66bd58" stroke-width="0.5" stroke-linejoin="round"/><circle cx="247.4" cy="92.3" r="0.8" fill="#4ea647" opacity="0.45"/><circle cx="244.2" cy="83.5" r="0.8" fill="#4ea647" opacity="0.45"/><circle cx="248.6" cy="86.9" r="0.6" fill="#7fcb70" opacity="0.45"/><circle cx="248.3" cy="87.3" r="1" fill="#4ea647" opacity="0.45"/><circle cx="246.7" cy="102.8" r="1.1" fill="#4ea647" opacity="0.45"/><circle cx="250.6" cy="95.9" r="0.9" fill="#4ea647" opacity="0.45"/><circle cx="247.6" cy="101.3" r="0.7" fill="#4ea647" opacity="0.45"/><circle cx="247.3" cy="80.1" r="0.7" fill="#7fcb70" opacity="0.45"/><path d="M209.1,92 L208.3,92.9 L207.3,93.8 L208.1,94.7 L207.9,95.6 L208.2,96.5 L208.8,97.4 L208.7,98.3 L208.5,99.2 L208.3,100.1 L208.5,101 L207.8,101.9 L207.6,102.8 L207.6,103.7 L207,104.6 L206,105.5 L206.3,106.4 L206.8,107.3 L206.9,108.2 L207.3,109.1 L207.8,110 L207.7,110.9 L207.5,111.8 L207.7,112.7 L208.1,113.6 L208.6,114.5 L209,115.4 L209.4,116.3 L209.4,117.2 L209.4,118.1 L209.6,119 L214.9,119 L215.1,118.1 L215.2,117.2 L215.2,116.3 L215.7,115.4 L215.3,114.5 L214.6,113.6 L214.2,112.7 L213.9,111.8 L213.9,110.9 L213.4,110 L213.9,109.1 L213.5,108.2 L213.1,107.3 L213.2,106.4 L213.9,105.5 L213.9,104.6 L214.9,103.7 L216.1,102.8 L216.1,101.9 L216.8,101 L217.2,100.1 L217.4,99.2 L217.4,98.3 L218.2,97.4 L217.9,96.5 L217.8,95.6 L217.8,94.7 L217,93.8 L215.9,92.9 L213,92Z" fill="#66bd58" stroke="#66bd58" stroke-width="0.5" stroke-linejoin="round"/><circle cx="208.6" cy="92.6" r="0.9" fill="#4ea647" opacity="0.45"/><circle cx="210.1" cy="106.1" r="0.9" fill="#7fcb70" opacity="0.45"/><circle cx="208.5" cy="107.9" r="1.1" fill="#7fcb70" opacity="0.45"/><circle cx="210.5" cy="96.3" r="1.2" fill="#4ea647" opacity="0.45"/><circle cx="210.9" cy="96" r="1.1" fill="#4ea647" opacity="0.45"/><circle cx="210.5" cy="113.1" r="0.8" fill="#4ea647" opacity="0.45"/><circle cx="213.7" cy="93.5" r="1.2" fill="#4ea647" opacity="0.45"/><circle cx="210.3" cy="109.4" r="1.3" fill="#4ea647" opacity="0.45"/><circle cx="208.8" cy="105.3" r="0.7" fill="#4ea647" opacity="0.45"/><path d="M262.3,95 L260.7,95.9 L260.6,96.8 L259.3,97.7 L259.4,98.6 L259.9,99.5 L260.6,100.4 L261.2,101.3 L261.7,102.2 L261.4,103.1 L261.8,104 L262.9,104.9 L262.9,105.8 L263.2,106.7 L263.6,107.6 L263.7,108.5 L263.7,109.5 L264.6,110.4 L265.4,111.3 L265.5,112.2 L266,113.1 L265.6,114 L264.9,114.9 L263.7,115.8 L262.8,116.7 L262.2,117.6 L262.4,118.5 L263.2,119.4 L268.5,119.4 L269.5,118.5 L269.9,117.6 L270.3,116.7 L270.6,115.8 L271.7,114.9 L271.7,114 L272.1,113.1 L271.8,112.2 L272,111.3 L270.9,110.4 L270.2,109.5 L270.1,108.5 L270,107.6 L269.9,106.7 L270.5,105.8 L270.4,104.9 L269,104 L268.2,103.1 L267.5,102.2 L267,101.3 L266.6,100.4 L267,99.5 L267.3,98.6 L267.5,97.7 L267.8,96.8 L267.8,95.9 L266.2,95Z" fill="#66bd58" stroke="#66bd58" stroke-width="0.5" stroke-linejoin="round"/><circle cx="264.6" cy="105.3" r="0.7" fill="#7fcb70" opacity="0.45"/><circle cx="265.3" cy="96.2" r="1.1" fill="#4ea647" opacity="0.45"/><circle cx="268" cy="107.3" r="0.9" fill="#4ea647" opacity="0.45"/><circle cx="266.7" cy="114.2" r="0.8" fill="#4ea647" opacity="0.45"/><circle cx="265.7" cy="103.5" r="0.9" fill="#4ea647" opacity="0.45"/><circle cx="270" cy="112.4" r="0.9" fill="#7fcb70" opacity="0.45"/><circle cx="261.3" cy="99.2" r="0.7" fill="#4ea647" opacity="0.45"/><circle cx="264.2" cy="95.1" r="0.8" fill="#4ea647" opacity="0.45"/><path d="M229,99 L227.6,99.9 L227.4,100.8 L226.9,101.8 L226.9,102.7 L227.6,103.6 L228.2,104.5 L229,105.4 L228.9,106.3 L228.9,107.3 L228.3,108.2 L228.1,109.1 L227.9,110 L228.7,110.9 L229.2,111.9 L229.8,112.8 L229.6,113.7 L229.5,114.6 L228.5,115.5 L228.3,116.4 L227.7,117.4 L227.9,118.3 L226.8,119.2 L226.5,120.1 L226.7,121 L227.4,122 L226.4,122.9 L226.1,123.8 L226,124.7 L226.1,125.6 L225.8,126.6 L226.6,127.5 L226.7,128.4 L227.3,129.3 L227.9,130.2 L229.1,131.1 L229.2,132.1 L233.7,132.1 L233.6,131.1 L235.1,130.2 L234.4,129.3 L234.3,128.4 L235.2,127.5 L234.4,126.6 L233.6,125.6 L234.3,124.7 L233.9,123.8 L234.2,122.9 L234.5,122 L234.3,121 L233.4,120.1 L233.8,119.2 L233.7,118.3 L234.2,117.4 L234.4,116.4 L234.9,115.5 L235.4,114.6 L237,113.7 L237.9,112.8 L237.8,111.9 L238.2,110.9 L238.1,110 L237.1,109.1 L236.9,108.2 L237.4,107.3 L237.3,106.3 L238.3,105.4 L238.4,104.5 L238.7,103.6 L238.9,102.7 L237.6,101.8 L236.9,100.8 L236.3,99.9 L234.5,99Z" fill="#66bd58" stroke="#66bd58" stroke-width="0.5" stroke-linejoin="round"/><circle cx="235.8" cy="114.1" r="0.8" fill="#4ea647" opacity="0.45"/><circle cx="228.1" cy="124.2" r="1.4" fill="#7fcb70" opacity="0.45"/><circle cx="229" cy="120.1" r="0.9" fill="#4ea647" opacity="0.45"/><circle cx="231.3" cy="99.4" r="1" fill="#4ea647" opacity="0.45"/><circle cx="230.9" cy="121.3" r="0.8" fill="#7fcb70" opacity="0.45"/><circle cx="232.6" cy="123.5" r="1" fill="#4ea647" opacity="0.45"/><circle cx="233.7" cy="131.9" r="1" fill="#4ea647" opacity="0.45"/><circle cx="234.3" cy="103.3" r="1.2" fill="#4ea647" opacity="0.45"/><circle cx="234.1" cy="105.4" r="1.2" fill="#4ea647" opacity="0.45"/><circle cx="233.7" cy="110.7" r="1.2" fill="#7fcb70" opacity="0.45"/><circle cx="232.2" cy="114.5" r="1.1" fill="#4ea647" opacity="0.45"/><path d="M91.5,88.1 L90.5,89 L89.8,89.9 L89,90.8 L89.1,91.7 L89.6,92.6 L90.8,93.6 L90.3,94.5 L91.2,95.4 L91.6,96.3 L92.8,97.2 L93.3,98.1 L94.1,99 L93.8,99.9 L93.2,100.8 L94,101.8 L94.5,102.7 L95.1,103.6 L95,104.5 L95.5,105.4 L96.6,106.3 L96.9,107.2 L96.4,108.1 L96.4,109 L96.1,109.9 L96.1,110.8 L96,111.8 L95.8,112.7 L96.4,113.6 L97.4,114.5 L96.9,115.4 L96.4,116.3 L96.5,117.2 L95.3,118.1 L95.4,119 L95.3,120 L95.2,120.9 L95,121.8 L95.9,122.7 L95.1,123.6 L96.3,124.5 L96.6,125.4 L95.3,126.3 L94.4,127.2 L94.6,128.1 L94.8,129.1 L94.1,130 L94.2,130.9 L94.4,131.8 L94,132.7 L92.9,133.6 L91.6,134.5 L91.6,135.4 L92.1,136.3 L92.7,137.2 L92.9,138.2 L93.2,139.1 L94.1,140 L94.3,140.9 L93.9,141.8 L94.9,142.7 L95.6,143.6 L102.8,143.6 L102.8,142.7 L103.5,141.8 L103.8,140.9 L103.3,140 L103,139.1 L102.3,138.2 L102.8,137.2 L102.9,136.3 L103.2,135.4 L102.7,134.5 L103.4,133.6 L103.5,132.7 L103.5,131.8 L102.9,130.9 L103.3,130 L103.9,129.1 L104.4,128.1 L103.9,127.2 L104.8,126.3 L105.2,125.4 L105.7,124.5 L104.1,123.6 L104.4,122.7 L103.7,121.8 L104.1,120.9 L103.8,120 L104.4,119 L106,118.1 L106.2,117.2 L106.8,116.3 L107.4,115.4 L106.8,114.5 L105.3,113.6 L105.3,112.7 L105.1,111.8 L104.9,110.8 L105.7,109.9 L105.8,109 L106.6,108.1 L107.1,107.2 L107.4,106.3 L105.9,105.4 L105.8,104.5 L105,103.6 L104.3,102.7 L102.9,101.8 L103,100.8 L103.4,99.9 L103.2,99 L103.9,98.1 L104.7,97.2 L103.9,96.3 L103.2,95.4 L102.5,94.5 L102.4,93.6 L100.6,92.6 L99.5,91.7 L100.3,90.8 L101.5,89.9 L100.5,89 L99.5,88.1Z" fill="#66bd58" stroke="#66bd58" stroke-width="0.5" stroke-linejoin="round"/><circle cx="103.7" cy="105.7" r="1.5" fill="#7fcb70" opacity="0.45"/><circle cx="98.5" cy="125.7" r="1.6" fill="#7fcb70" opacity="0.45"/><circle cx="96.8" cy="141.1" r="1.6" fill="#7fcb70" opacity="0.45"/><circle cx="103" cy="109.5" r="1.7" fill="#4ea647" opacity="0.45"/><circle cx="100.5" cy="106.6" r="1.4" fill="#4ea647" opacity="0.45"/><circle cx="102.3" cy="127.1" r="1.2" fill="#4ea647" opacity="0.45"/><circle cx="96.3" cy="128.4" r="1" fill="#7fcb70" opacity="0.45"/><circle cx="102.7" cy="120.6" r="1.1" fill="#7fcb70" opacity="0.45"/><circle cx="101.6" cy="126.1" r="1.7" fill="#7fcb70" opacity="0.45"/><circle cx="96.7" cy="103.8" r="1.1" fill="#7fcb70" opacity="0.45"/><circle cx="100.6" cy="96.8" r="1.6" fill="#4ea647" opacity="0.45"/><circle cx="97.7" cy="104.1" r="1.7" fill="#4ea647" opacity="0.45"/><circle cx="100.4" cy="96.3" r="1.6" fill="#4ea647" opacity="0.45"/><circle cx="103.7" cy="126.1" r="1.2" fill="#4ea647" opacity="0.45"/><circle cx="101.3" cy="118.1" r="1.2" fill="#4ea647" opacity="0.45"/><circle cx="96.3" cy="139.8" r="1.4" fill="#4ea647" opacity="0.45"/><circle cx="102.3" cy="110.1" r="1.7" fill="#4ea647" opacity="0.45"/><circle cx="101.3" cy="129.8" r="1.3" fill="#4ea647" opacity="0.45"/><path d="M191.2,107 L190.3,107.9 L188.3,108.8 L188.2,109.8 L187.2,110.7 L186.8,111.6 L185.9,112.5 L185.4,113.4 L185.1,114.4 L184.9,115.3 L184.9,116.2 L185.1,117.1 L186.1,118 L185.4,119 L186.4,119.9 L187.1,120.8 L188.5,121.7 L189.2,122.6 L189.4,123.6 L189.3,124.5 L190,125.4 L189.6,126.3 L189.1,127.2 L189.6,128.2 L190.2,129.1 L190,130 L191.4,130.9 L192.4,131.8 L192.8,132.8 L192.2,133.7 L192.4,134.6 L193.1,135.5 L192.2,136.4 L191.8,137.4 L190.8,138.3 L190.8,139.2 L190.5,140.1 L191.1,141 L190.7,142 L191,142.9 L191,143.8 L190.7,144.7 L189.8,145.6 L199.3,145.6 L199.3,144.7 L199.6,143.8 L199.6,142.9 L199.3,142 L199.2,141 L199.1,140.1 L199.5,139.2 L200,138.3 L200.6,137.4 L201.3,136.4 L201.5,135.5 L200.6,134.6 L199.8,133.7 L199.6,132.8 L198.6,131.8 L197.6,130.9 L197.5,130 L197.8,129.1 L197.5,128.2 L197.4,127.2 L198.2,126.3 L197.2,125.4 L196.5,124.5 L196.2,123.6 L196.8,122.6 L196.2,121.7 L195.9,120.8 L195.6,119.9 L195.9,119 L195.6,118 L195.2,117.1 L195.1,116.2 L194.9,115.3 L195.8,114.4 L196.1,113.4 L196,112.5 L196.4,111.6 L196.1,110.7 L196.2,109.8 L197.1,108.8 L197.6,107.9 L196.8,107Z" fill="#66bd58" stroke="#66bd58" stroke-width="0.5" stroke-linejoin="round"/><circle cx="192.9" cy="124.1" r="1.2" fill="#7fcb70" opacity="0.45"/><circle cx="195.9" cy="107.1" r="1.2" fill="#4ea647" opacity="0.45"/><circle cx="188.9" cy="120.9" r="1.1" fill="#7fcb70" opacity="0.45"/><circle cx="191.5" cy="129.1" r="0.9" fill="#4ea647" opacity="0.45"/><circle cx="194.2" cy="134.5" r="0.8" fill="#4ea647" opacity="0.45"/><circle cx="196.4" cy="141.4" r="1.4" fill="#4ea647" opacity="0.45"/><circle cx="191.1" cy="115" r="1.3" fill="#4ea647" opacity="0.45"/><circle cx="192.3" cy="129.5" r="0.8" fill="#4ea647" opacity="0.45"/><circle cx="195.9" cy="127.1" r="1.5" fill="#4ea647" opacity="0.45"/><circle cx="194.5" cy="138.3" r="1.4" fill="#7fcb70" opacity="0.45"/><circle cx="191.6" cy="110.5" r="1.4" fill="#4ea647" opacity="0.45"/><circle cx="193.4" cy="140.7" r="0.9" fill="#7fcb70" opacity="0.45"/><path d="M141.7,91.4 L140.6,92.3 L139.4,93.2 L138.3,94.1 L137.9,95 L137.7,95.9 L138.8,96.8 L139.6,97.7 L139.9,98.6 L140.6,99.5 L141.9,100.4 L141.6,101.3 L142,102.2 L143.4,103.1 L144.2,104 L143.7,104.9 L144,105.8 L143.7,106.7 L143.2,107.6 L141.9,108.5 L142.5,109.4 L141.3,110.3 L140.7,111.2 L141.2,112.1 L141.2,113 L140,113.9 L140.1,114.8 L140.7,115.7 L140.3,116.6 L140.9,117.5 L141.3,118.4 L141.4,119.3 L141.4,120.2 L140.7,121.1 L140.6,122 L139.8,122.9 L139.2,123.8 L139.1,124.7 L138.5,125.6 L138.4,126.5 L138.4,127.4 L138.3,128.3 L137.7,129.2 L138.3,130.1 L138.3,131.1 L137.3,132 L137.9,132.9 L138.3,133.8 L137.9,134.7 L137.8,135.6 L138.4,136.5 L139,137.4 L138.7,138.3 L139.7,139.2 L140,140.1 L140.5,141 L139.8,141.9 L140.3,142.8 L139.5,143.7 L139.4,144.6 L139.4,145.5 L140,146.4 L147.5,146.4 L148.2,145.5 L149.3,144.6 L149,143.7 L148.9,142.8 L148.8,141.9 L148.5,141 L148.4,140.1 L148.1,139.2 L148.2,138.3 L148.8,137.4 L147.7,136.5 L147.6,135.6 L148.2,134.7 L148.3,133.8 L147.7,132.9 L147.4,132 L147.8,131.1 L147.4,130.1 L146.3,129.2 L146.5,128.3 L146.9,127.4 L147.3,126.5 L146.8,125.6 L147,124.7 L146.6,123.8 L146.5,122.9 L145.6,122 L145.8,121.1 L146.4,120.2 L146.3,119.3 L146.7,118.4 L147.1,117.5 L147.8,116.6 L148.7,115.7 L149.3,114.8 L150.7,113.9 L151.9,113 L152.2,112.1 L151.4,111.2 L151.9,110.3 L152.3,109.4 L151.8,108.5 L151.7,107.6 L152.9,106.7 L152.5,105.8 L152.3,104.9 L152.5,104 L152.5,103.1 L151,102.2 L150.6,101.3 L150.3,100.4 L149.9,99.5 L148.8,98.6 L149.2,97.7 L149.7,96.8 L149.4,95.9 L150,95 L149.9,94.1 L149.1,93.2 L147.9,92.3 L146.6,91.4Z" fill="#66bd58" stroke="#66bd58" stroke-width="0.5" stroke-linejoin="round"/><circle cx="141.5" cy="124.8" r="1" fill="#7fcb70" opacity="0.45"/><circle cx="146.9" cy="140.4" r="0.8" fill="#7fcb70" opacity="0.45"/><circle cx="143.1" cy="122.5" r="1.5" fill="#7fcb70" opacity="0.45"/><circle cx="146.9" cy="121" r="1.2" fill="#4ea647" opacity="0.45"/><circle cx="142.7" cy="131.4" r="1.1" fill="#4ea647" opacity="0.45"/><circle cx="142" cy="124.1" r="1.5" fill="#4ea647" opacity="0.45"/><circle cx="142.4" cy="95.2" r="1.1" fill="#4ea647" opacity="0.45"/><circle cx="146.9" cy="113.4" r="1.2" fill="#4ea647" opacity="0.45"/><circle cx="144.2" cy="144.4" r="1.1" fill="#4ea647" opacity="0.45"/><circle cx="144.7" cy="140.8" r="1.3" fill="#4ea647" opacity="0.45"/><circle cx="140.8" cy="136.2" r="1" fill="#4ea647" opacity="0.45"/><circle cx="143.1" cy="136.8" r="0.9" fill="#7fcb70" opacity="0.45"/><circle cx="143.9" cy="129.3" r="1.6" fill="#7fcb70" opacity="0.45"/><circle cx="142.8" cy="126.1" r="1.4" fill="#4ea647" opacity="0.45"/><circle cx="142.2" cy="119.2" r="0.9" fill="#4ea647" opacity="0.45"/><circle cx="140.8" cy="122.5" r="1.2" fill="#4ea647" opacity="0.45"/><circle cx="139.9" cy="126.4" r="1.1" fill="#4ea647" opacity="0.45"/><circle cx="148.6" cy="108.3" r="0.8" fill="#7fcb70" opacity="0.45"/><path d="M163.9,112 L162.3,112.9 L162.3,113.8 L162.3,114.7 L162.1,115.6 L161.5,116.5 L161.5,117.4 L161.6,118.3 L161.1,119.2 L161.4,120.1 L161.5,121 L160.6,121.9 L160,122.8 L160,123.7 L160.2,124.7 L159.9,125.6 L160.5,126.5 L160.5,127.4 L160.5,128.3 L161.5,129.2 L161.7,130.1 L160.4,131 L159.6,131.9 L159.7,132.8 L160.2,133.7 L160.3,134.6 L162,135.5 L162.5,136.4 L162.8,137.3 L162.2,138.2 L163.8,139.1 L164.8,140 L165.5,140.9 L165.8,141.8 L167.2,142.7 L166.7,143.6 L167.3,144.5 L167.9,145.4 L167.5,146.3 L167.5,147.2 L167.9,148.2 L168,149.1 L167.1,150 L167.2,150.9 L167.5,151.8 L167,152.7 L166.6,153.6 L167.1,154.5 L167.7,155.4 L166.6,156.3 L166.2,157.2 L167,158.1 L166.3,159 L166.8,159.9 L167,160.8 L168,161.7 L167.9,162.6 L174.9,162.6 L174.8,161.7 L175.6,160.8 L175.9,159.9 L175.2,159 L175.7,158.1 L176.9,157.2 L178.2,156.3 L178.1,155.4 L179.1,154.5 L179,153.6 L178,152.7 L177.7,151.8 L178.1,150.9 L177.7,150 L177.5,149.1 L177.6,148.2 L177.3,147.2 L177.5,146.3 L177.4,145.4 L176.5,144.5 L176.1,143.6 L175.4,142.7 L174.1,141.8 L173.3,140.9 L172.6,140 L171.4,139.1 L171,138.2 L170.7,137.3 L170.3,136.4 L170.5,135.5 L170.2,134.6 L170.4,133.7 L170.1,132.8 L170.9,131.9 L171.2,131 L170.9,130.1 L170.1,129.2 L169.6,128.3 L170.2,127.4 L170.2,126.5 L170.2,125.6 L170.9,124.7 L170.7,123.7 L170.8,122.8 L171.2,121.9 L172.2,121 L173,120.1 L173,119.2 L173.2,118.3 L174,117.4 L173.9,116.5 L173.7,115.6 L173.6,114.7 L172.8,113.8 L171.4,112.9 L171,112Z" fill="#66bd58" stroke="#66bd58" stroke-width="0.5" stroke-linejoin="round"/><circle cx="169.4" cy="143.1" r="1.4" fill="#7fcb70" opacity="0.45"/><circle cx="170.2" cy="159.9" r="1.7" fill="#4ea647" opacity="0.45"/><circle cx="168" cy="137.5" r="1.6" fill="#4ea647" opacity="0.45"/><circle cx="162.3" cy="134.9" r="1.5" fill="#7fcb70" opacity="0.45"/><circle cx="175" cy="146.1" r="1.6" fill="#7fcb70" opacity="0.45"/><circle cx="169.4" cy="150.6" r="1.5" fill="#4ea647" opacity="0.45"/><circle cx="165.9" cy="125.2" r="1.8" fill="#4ea647" opacity="0.45"/><circle cx="163.7" cy="123.9" r="1.8" fill="#4ea647" opacity="0.45"/><circle cx="165.7" cy="130.1" r="1.1" fill="#7fcb70" opacity="0.45"/><circle cx="168.6" cy="118.9" r="1.3" fill="#7fcb70" opacity="0.45"/><circle cx="163.6" cy="124" r="1.4" fill="#7fcb70" opacity="0.45"/><circle cx="168.3" cy="118.7" r="1.5" fill="#4ea647" opacity="0.45"/><circle cx="170" cy="156.8" r="1.4" fill="#7fcb70" opacity="0.45"/><circle cx="168.9" cy="143.9" r="1.3" fill="#4ea647" opacity="0.45"/><circle cx="170.4" cy="146.3" r="1.8" fill="#7fcb70" opacity="0.45"/><circle cx="170.2" cy="154.1" r="1.2" fill="#7fcb70" opacity="0.45"/></g>
<rect x="138" y="78.9" width="2.6" height="13" fill="#111"/>
<polygon points="134.7,91.2 143.9,91.2 139.3,100.4" fill="#111"/>
<rect x="159" y="78.9" width="2.6" height="13" fill="#111"/>
<polygon points="155.7,91.2 164.9,91.2 160.3,100.4" fill="#111"/>
<rect x="180.4" y="78.9" width="2.6" height="13" fill="#111"/>
<polygon points="177.1,91.2 186.3,91.2 181.7,100.4" fill="#111"/>
<rect x="203.2" y="78.9" width="2.6" height="13" fill="#111"/>
<polygon points="199.9,91.2 209.1,91.2 204.5,100.4" fill="#111"/>
<rect x="258.8" y="180.2" width="75.2" height="5.6" fill="#1a1a1a"/>
<polygon points="333,174.3 351.2,183 333,191.7" fill="#1a1a1a"/>
<rect x="549.4" y="180.2" width="74.6" height="5.6" fill="#1a1a1a"/>
<polygon points="623,174.3 639.9,183 623,191.7" fill="#1a1a1a"/>
<path d="M96.1,175.5 C95.2,214 98.5,234 111.8,241.3" stroke="#2a2a2a" stroke-width="1.7" fill="none"/>
<polygon points="116,242.3 110.6,244.6 111.6,238.6" fill="#222"/>
<path d="M405.8,175.7 C399.5,195 398.6,212 399.6,224 C400.8,234 404,239 408.6,242.2" stroke="#2a2a2a" stroke-width="1.7" fill="none"/>
<polygon points="413.5,245 408,246.3 409.7,240.6" fill="#222"/>
<path d="M681.2,82.5 C681,64 691,53 706,51.4" stroke="#2a2a2a" stroke-width="1.7" fill="none"/>
<polygon points="711,51.1 705.8,48.2 705.8,54.2" fill="#222"/>
<text x="34.7" y="42.9" font-size="24" font-weight="bold" textLength="18.3" lengthAdjust="spacingAndGlyphs">A</text>
<text x="116.1" y="61.7" font-size="21" textLength="98.5" lengthAdjust="spacingAndGlyphs">PAC/APPJ</text>
<text x="123.8" y="253.9" font-size="20.3" textLength="102.1" lengthAdjust="spacingAndGlyphs">Radicals or</text>
<text x="91.8" y="277.9" font-size="20.3" textLength="166.1" lengthAdjust="spacingAndGlyphs">Functional Groups</text>
<text x="273.6" y="173.9" font-size="18" textLength="53.4" lengthAdjust="spacingAndGlyphs">Protein</text>
<text x="259.4" y="204.1" font-size="17.5" textLength="83.5" lengthAdjust="spacingAndGlyphs">incubation</text>
<text x="571.6" y="174.2" font-size="17" textLength="35.9" lengthAdjust="spacingAndGlyphs">SDS</text>
<text x="566.9" y="204.7" font-size="19" textLength="46.7" lengthAdjust="spacingAndGlyphs">wash</text>
<text x="415.1" y="263.4" font-size="20.2" textLength="181.8" lengthAdjust="spacingAndGlyphs">Physically absorbed</text>
<text x="472.9" y="287" font-size="20.2" textLength="72.2" lengthAdjust="spacingAndGlyphs">proteins</text>
<text x="677.4" y="46.9" font-size="20.7" textLength="234.4" lengthAdjust="spacingAndGlyphs">Covalently bound proteins</text>
<text x="36.9" y="341" font-size="24" font-weight="bold" textLength="18.7" lengthAdjust="spacingAndGlyphs">B</text>
<text x="230" y="340.9" font-size="20.5" textLength="61.8" lengthAdjust="spacingAndGlyphs">PDMS</text>
<text transform="translate(80.3,613.8) rotate(-90)" font-size="20" textLength="230.9" lengthAdjust="spacingAndGlyphs">Relative protein adhesion</text>
<path d="M153.2,381.6V440.6" stroke="#000" stroke-width="2.4"/>
<path d="M142.4,382.8H154.4" stroke="#000" stroke-width="2.4" stroke-linecap="butt"/>
<path d="M146,439.4H160" stroke="#000" stroke-width="2.4" stroke-linecap="butt"/>
<path d="M153.2,456.3V625.6" stroke="#000" stroke-width="2.4"/>
<path d="M146,457.5H160" stroke="#000" stroke-width="2.4" stroke-linecap="butt"/>
<path d="M142.4,513.7H153.2" stroke="#000" stroke-width="2.4" stroke-linecap="butt"/>
<path d="M142.4,569.7H153.2" stroke="#000" stroke-width="2.4" stroke-linecap="butt"/>
<path d="M142.4,625.6H395" stroke="#000" stroke-width="2.4" stroke-linecap="butt"/>
<text x="89.9" y="388.5" font-size="16.3" textLength="44.8" lengthAdjust="spacingAndGlyphs">1 x 10</text>
<text x="134.7" y="382.6" font-size="9.5" textLength="6.1" lengthAdjust="spacingAndGlyphs">5</text>
<text x="89.1" y="462.9" font-size="16.3" textLength="45.7" lengthAdjust="spacingAndGlyphs">3 x 10</text>
<text x="135.8" y="456.7" font-size="9.5" textLength="4.9" lengthAdjust="spacingAndGlyphs">4</text>
<text x="88.9" y="518.9" font-size="16.3" textLength="45.8" lengthAdjust="spacingAndGlyphs">2 x 10</text>
<text x="135.8" y="512.8" font-size="9.5" textLength="4.9" lengthAdjust="spacingAndGlyphs">4</text>
<text x="89.9" y="576.5" font-size="16.3" textLength="44.8" lengthAdjust="spacingAndGlyphs">1 x 10</text>
<text x="135.8" y="570.5" font-size="9.5" textLength="4.9" lengthAdjust="spacingAndGlyphs">4</text>
<text x="130.6" y="632" font-size="16.3" textLength="9.1" lengthAdjust="spacingAndGlyphs">0</text>
<rect x="161.9" y="414.6" width="18" height="24.8" fill="#9b9a9f"/>
<path d="M163.6,439.4V416.3H178.2V439.4" fill="none" stroke="#4e3f3a" stroke-width="3.4"/>
<rect x="161.9" y="458" width="18" height="167.6" fill="#9b9a9f"/>
<rect x="161.9" y="458" width="3.4" height="167.6" fill="#4e3f3a"/>
<rect x="176.5" y="458" width="3.4" height="167.6" fill="#4e3f3a"/>
<rect x="188.8" y="413" width="18" height="26.4" fill="#cbb7da"/>
<path d="M190.5,439.4V414.7H205.1V439.4" fill="none" stroke="#7b3294" stroke-width="3.4"/>
<rect x="188.8" y="458" width="18" height="167.6" fill="#cbb7da"/>
<rect x="188.8" y="458" width="3.4" height="167.6" fill="#7b3294"/>
<rect x="203.4" y="458" width="3.4" height="167.6" fill="#7b3294"/>
<rect x="215.6" y="413" width="18" height="26.4" fill="#87b9e3"/>
<path d="M217.3,439.4V414.7H231.9V439.4" fill="none" stroke="#1b6db8" stroke-width="3.4"/>
<rect x="215.6" y="458" width="18" height="167.6" fill="#87b9e3"/>
<rect x="215.6" y="458" width="3.4" height="167.6" fill="#1b6db8"/>
<rect x="230.2" y="458" width="3.4" height="167.6" fill="#1b6db8"/>
<rect x="242.4" y="417.4" width="18" height="22" fill="#8fd4c2"/>
<path d="M244.1,439.4V419.1H258.7V439.4" fill="none" stroke="#16934a" stroke-width="3.4"/>
<rect x="242.4" y="458" width="18" height="167.6" fill="#8fd4c2"/>
<rect x="242.4" y="458" width="3.4" height="167.6" fill="#16934a"/>
<rect x="257" y="458" width="3.4" height="167.6" fill="#16934a"/>
<path d="M170.9,401.4V427.4M166.1,401.4H175.7M166.1,427.4H175.7" stroke="#4e3f3a" stroke-width="1.5" fill="none"/>
<path d="M197.8,407.6V418M193,407.6H202.6M193,418H202.6" stroke="#7b3294" stroke-width="1.5" fill="none"/>
<path d="M224.6,393.6V432.6M219.8,393.6H229.4M219.8,432.6H229.4" stroke="#1b6db8" stroke-width="1.5" fill="none"/>
<path d="M251.4,413V421M246.6,413H256.2M246.6,421H256.2" stroke="#16934a" stroke-width="1.5" fill="none"/>
<rect x="316.3" y="607.3" width="14.6" height="16.6" fill="#cbb7da" stroke="#7b3294" stroke-width="3.4"/>
<rect x="343.1" y="502.7" width="14.6" height="121.2" fill="#87b9e3" stroke="#1b6db8" stroke-width="3.4"/>
<rect x="370.1" y="527.1" width="14.6" height="96.8" fill="#8fd4c2" stroke="#16934a" stroke-width="3.4"/>
<rect x="288.1" y="619.9" width="17" height="5.7" fill="#818181" stroke="#5d5351" stroke-width="1"/>
<path d="M296.6,614V622M291.8,614H301.4M291.8,622H301.4" stroke="#4e3f3a" stroke-width="1.5" fill="none"/>
<path d="M323.6,588.6V621M318.8,588.6H328.4M318.8,621H328.4" stroke="#7b3294" stroke-width="1.5" fill="none"/>
<path d="M350.4,473V528M345.6,473H355.2M345.6,528H355.2" stroke="#1b6db8" stroke-width="1.5" fill="none"/>
<path d="M377.4,517V532M372.6,517H382.2M372.6,532H382.2" stroke="#16934a" stroke-width="1.5" fill="none"/>
<path d="M142.4,625.6H395" stroke="#000" stroke-width="2.4" stroke-linecap="butt"/>
<text x="350" y="457.1" font-size="25" font-weight="bold" text-anchor="middle">*</text>
<text x="377.6" y="501.6" font-size="25" font-weight="bold" text-anchor="middle">*</text>
<path d="M165.2,377.9H250.2" stroke="#000" stroke-width="3.6" stroke-linecap="round"/>
<text x="196.7" y="373.8" font-size="17.5" textLength="18.5" lengthAdjust="spacingAndGlyphs">ns</text>
<path d="M160.9,640.4H260.5" stroke="#000" stroke-width="3.8" stroke-linecap="round"/>
<path d="M287.9,640.4H387.5" stroke="#000" stroke-width="3.8" stroke-linecap="round"/>
<text x="182.7" y="660.8" font-size="18" textLength="58.8" lengthAdjust="spacingAndGlyphs">Before</text>
<text x="319.5" y="660.8" font-size="18" textLength="40.8" lengthAdjust="spacingAndGlyphs">After</text>
<rect x="407.4" y="367.4" width="13.7" height="13.5" fill="#9b9a9f" stroke="#4e3f3a" stroke-width="1.6"/>
<rect x="407.4" y="387.3" width="13.7" height="13.4" fill="#cbb7da" stroke="#7b3294" stroke-width="1.6"/>
<rect x="407.4" y="409.9" width="13.7" height="13.2" fill="#87b9e3" stroke="#1b6db8" stroke-width="1.6"/>
<rect x="407.4" y="430.3" width="13.7" height="13.5" fill="#8fd4c2" stroke="#16934a" stroke-width="1.6"/>
<text x="426.8" y="378.1" font-size="15.8" textLength="74.7" lengthAdjust="spacingAndGlyphs">Untreated</text>
<text x="426.3" y="399.8" font-size="15.8" textLength="14" lengthAdjust="spacingAndGlyphs">O</text>
<text x="440.1" y="405.6" font-size="10.5" textLength="6.9" lengthAdjust="spacingAndGlyphs">2</text>
<text x="450.1" y="399.7" font-size="15.8" textLength="55.5" lengthAdjust="spacingAndGlyphs">Plasma</text>
<text x="426.7" y="421.2" font-size="15.8" textLength="34.9" lengthAdjust="spacingAndGlyphs">PAC</text>
<text x="427.8" y="441.5" font-size="15.8" textLength="42.3" lengthAdjust="spacingAndGlyphs">APPJ</text>
<text x="531" y="340.8" font-size="24" font-weight="bold" textLength="16.6" lengthAdjust="spacingAndGlyphs">C</text>
<text x="755" y="340.9" font-size="20.5" textLength="53.1" lengthAdjust="spacingAndGlyphs">Glass</text>
<text transform="translate(579.8,612.5) rotate(-90)" font-size="20" textLength="230.5" lengthAdjust="spacingAndGlyphs">Relative protein adhesion</text>
<path d="M663.4,380V437.8" stroke="#000" stroke-width="2.4"/>
<path d="M653,381.2H664.6" stroke="#000" stroke-width="2.4" stroke-linecap="butt"/>
<path d="M656,436.7H670" stroke="#000" stroke-width="2.4" stroke-linecap="butt"/>
<path d="M663.4,454.6V624.4" stroke="#000" stroke-width="2.4"/>
<path d="M656,455.8H670" stroke="#000" stroke-width="2.4" stroke-linecap="butt"/>
<path d="M653,511.9H663.4" stroke="#000" stroke-width="2.4" stroke-linecap="butt"/>
<path d="M653,568.1H663.4" stroke="#000" stroke-width="2.4" stroke-linecap="butt"/>
<text x="598.8" y="387.9" font-size="15.8" textLength="45.6" lengthAdjust="spacingAndGlyphs">4 x 10</text>
<text x="645.1" y="381.8" font-size="9.5" textLength="5.2" lengthAdjust="spacingAndGlyphs">4</text>
<text x="598" y="442.8" font-size="15.8" textLength="46.3" lengthAdjust="spacingAndGlyphs">2 x 10</text>
<text x="645.1" y="436.8" font-size="9.5" textLength="5.2" lengthAdjust="spacingAndGlyphs">4</text>
<text x="585.4" y="464.7" font-size="15.8" textLength="59.2" lengthAdjust="spacingAndGlyphs">1.5 x 10</text>
<text x="645.1" y="458.8" font-size="9.5" textLength="5.2" lengthAdjust="spacingAndGlyphs">4</text>
<text x="599.7" y="518.7" font-size="15.8" textLength="44.8" lengthAdjust="spacingAndGlyphs">1 x 10</text>
<text x="645.1" y="512.8" font-size="9.5" textLength="5.2" lengthAdjust="spacingAndGlyphs">4</text>
<text x="598.4" y="574.1" font-size="15.8" textLength="46" lengthAdjust="spacingAndGlyphs">5 x 10</text>
<text x="645.1" y="568.2" font-size="9.5" textLength="5" lengthAdjust="spacingAndGlyphs">3</text>
<text x="640.5" y="632" font-size="15.8" textLength="10.1" lengthAdjust="spacingAndGlyphs">0</text>
<rect x="672.4" y="409.4" width="18" height="27.2" fill="#9b9a9f"/>
<path d="M674.1,436.6V411.1H688.7V436.6" fill="none" stroke="#4e3f3a" stroke-width="3.4"/>
<rect x="672.4" y="456" width="18" height="168.4" fill="#9b9a9f"/>
<rect x="672.4" y="456" width="3.4" height="168.4" fill="#4e3f3a"/>
<rect x="687" y="456" width="3.4" height="168.4" fill="#4e3f3a"/>
<rect x="699.2" y="413.4" width="18" height="23.2" fill="#cbb7da"/>
<path d="M700.9,436.6V415.1H715.5V436.6" fill="none" stroke="#7b3294" stroke-width="3.4"/>
<rect x="699.2" y="456" width="18" height="168.4" fill="#cbb7da"/>
<rect x="699.2" y="456" width="3.4" height="168.4" fill="#7b3294"/>
<rect x="713.8" y="456" width="3.4" height="168.4" fill="#7b3294"/>
<rect x="726" y="408" width="18" height="28.6" fill="#87b9e3"/>
<path d="M727.7,436.6V409.7H742.3V436.6" fill="none" stroke="#1b6db8" stroke-width="3.4"/>
<rect x="726" y="456" width="18" height="168.4" fill="#87b9e3"/>
<rect x="726" y="456" width="3.4" height="168.4" fill="#1b6db8"/>
<rect x="740.6" y="456" width="3.4" height="168.4" fill="#1b6db8"/>
<rect x="752.8" y="409" width="18" height="27.6" fill="#8fd4c2"/>
<path d="M754.5,436.6V410.7H769.1V436.6" fill="none" stroke="#16934a" stroke-width="3.4"/>
<rect x="752.8" y="456" width="18" height="168.4" fill="#8fd4c2"/>
<rect x="752.8" y="456" width="3.4" height="168.4" fill="#16934a"/>
<rect x="767.4" y="456" width="3.4" height="168.4" fill="#16934a"/>
<path d="M681.4,388.6V430.4M676.6,388.6H686.2M676.6,430.4H686.2" stroke="#4e3f3a" stroke-width="1.5" fill="none"/>
<path d="M708.2,395V430.4M703.4,395H713M703.4,430.4H713" stroke="#7b3294" stroke-width="1.5" fill="none"/>
<path d="M735,384V431M730.2,384H739.8M730.2,431H739.8" stroke="#1b6db8" stroke-width="1.5" fill="none"/>
<path d="M761.8,403.6V413M757,403.6H766.6M757,413H766.6" stroke="#16934a" stroke-width="1.5" fill="none"/>
<rect x="800.1" y="602.7" width="14.6" height="20" fill="#9b9a9f" stroke="#4e3f3a" stroke-width="3.4"/>
<rect x="827.1" y="600.1" width="14.6" height="22.6" fill="#cbb7da" stroke="#7b3294" stroke-width="3.4"/>
<rect x="854.1" y="497.3" width="14.6" height="125.4" fill="#87b9e3" stroke="#1b6db8" stroke-width="3.4"/>
<rect x="881.3" y="503.7" width="14.6" height="119" fill="#8fd4c2" stroke="#16934a" stroke-width="3.4"/>
<path d="M807.4,580V621M802.6,580H812.2M802.6,621H812.2" stroke="#4e3f3a" stroke-width="1.5" fill="none"/>
<path d="M834.4,577V620M829.6,577H839.2M829.6,620H839.2" stroke="#7b3294" stroke-width="1.5" fill="none"/>
<path d="M861.4,474V516M856.6,474H866.2M856.6,516H866.2" stroke="#1b6db8" stroke-width="1.5" fill="none"/>
<path d="M888.6,496V507.4M883.8,496H893.4M883.8,507.4H893.4" stroke="#16934a" stroke-width="1.5" fill="none"/>
<path d="M653,624.4H906.6" stroke="#000" stroke-width="2.4" stroke-linecap="butt"/>
<text x="861" y="453.6" font-size="25" font-weight="bold" text-anchor="middle">*</text>
<text x="888.4" y="468.6" font-size="25" font-weight="bold" text-anchor="middle">*</text>
<path d="M675.7,376.3H761.1" stroke="#000" stroke-width="3.7" stroke-linecap="round"/>
<text x="709.9" y="371.3" font-size="17.5" textLength="17.7" lengthAdjust="spacingAndGlyphs">ns</text>
<path d="M670.5,641H770.1" stroke="#000" stroke-width="3.8" stroke-linecap="round"/>
<path d="M797.3,641H897.1" stroke="#000" stroke-width="3.8" stroke-linecap="round"/>
<text x="692.5" y="660.8" font-size="18" textLength="58.7" lengthAdjust="spacingAndGlyphs">Before</text>
<text x="829.4" y="660.8" font-size="18" textLength="40.6" lengthAdjust="spacingAndGlyphs">After</text>
</svg>
</body></html>
